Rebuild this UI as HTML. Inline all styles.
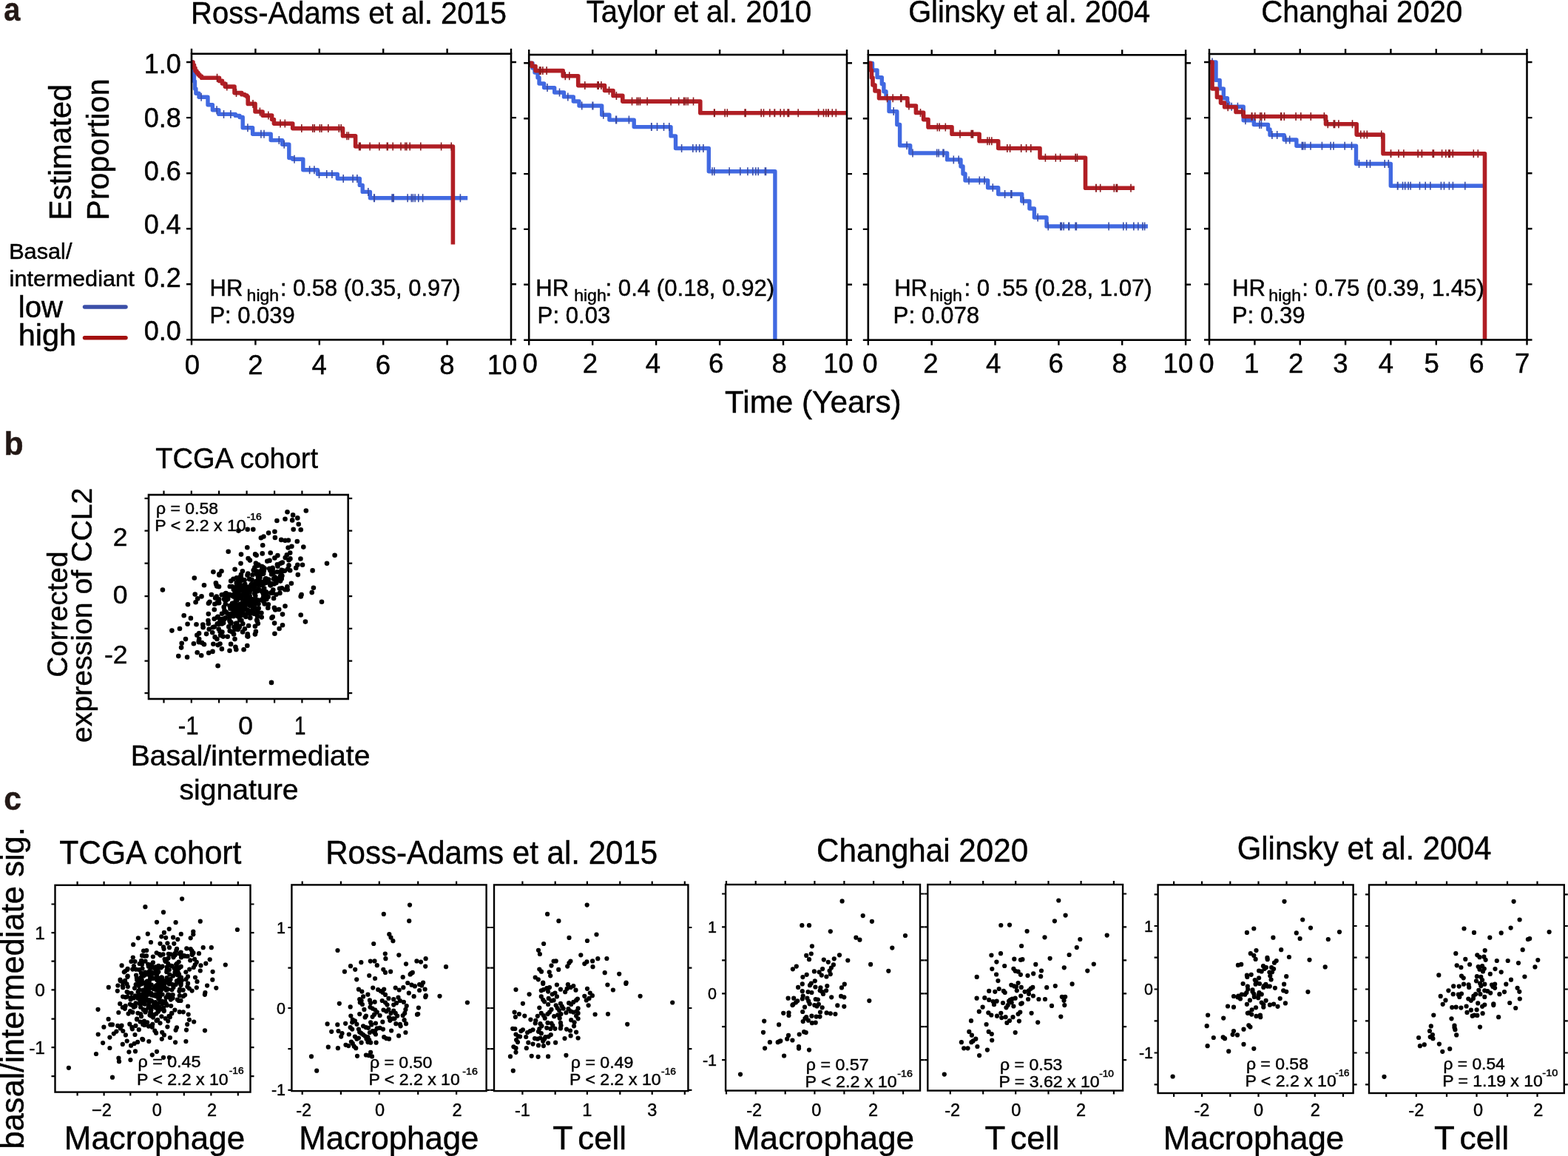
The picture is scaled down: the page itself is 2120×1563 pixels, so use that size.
<!DOCTYPE html>
<html><head><meta charset="utf-8"><title>Figure</title>
<style>html,body{margin:0;padding:0;background:#fff;overflow:hidden;}svg{display:block;}
text{font-family:'Liberation Sans', Arial, Helvetica, sans-serif;stroke:#000;stroke-width:0.45px;}text.lab{stroke:#231815;}</style></head>
<body><svg width="2120" height="1563" viewBox="0 0 2120 1563">
<rect width="2120" height="1563" fill="#fff"/>
<text x="5.21" y="28.30" font-size="44" textLength="22.14" lengthAdjust="spacingAndGlyphs" font-weight="bold" fill="#231815" class="lab">a</text>
<text x="5.46" y="614.60" font-size="44" textLength="26.19" lengthAdjust="spacingAndGlyphs" font-weight="bold" fill="#231815" class="lab">b</text>
<text x="5.29" y="1095.40" font-size="44" textLength="23.73" lengthAdjust="spacingAndGlyphs" font-weight="bold" fill="#231815" class="lab">c</text>
<text x="258.10" y="32.10" font-size="42" textLength="426.89" lengthAdjust="spacingAndGlyphs">Ross-Adams et al. 2015</text>
<path d="M259.0,65.7V72.7M259.0,459.4V466.4M345.4,65.7V72.7M345.4,459.4V466.4M431.8,65.7V72.7M431.8,459.4V466.4M518.2,65.7V72.7M518.2,459.4V466.4M604.6,65.7V72.7M604.6,459.4V466.4M691.0,65.7V72.7M691.0,459.4V466.4M252.0,459.4H259.0M691.0,459.4H698.0M252.0,384.3H259.0M691.0,384.3H698.0M252.0,309.2H259.0M691.0,309.2H698.0M252.0,234.2H259.0M691.0,234.2H698.0M252.0,159.1H259.0M691.0,159.1H698.0M252.0,84.0H259.0M691.0,84.0H698.0" stroke="#000" stroke-width="2.4" fill="none"/>
<path d="M259.5,84.0H260.5V92.0H261.5V100.0H262.5V110.0H263.5V120.0H264.9V126.3H269.0V131.2H281.0V141.8H287.4V148.8H295.8V154.4H318.3V156.4H324.0V158.5H328.2V172.7H341.6V181.2H366.2V189.6H381.7V195.3H390.8V213.6H395.7V215.2H409.8V229.7H429.5V235.4H456.3V241.5H486.3V250.4H490.2V259.4H500.4V267.7H632.2" stroke="#4169e1" stroke-width="5.4" fill="none" stroke-linejoin="round"/>
<path d="M272.1,125.7V136.7M293.1,143.3V154.3M311.9,148.9V159.9M302.5,148.9V159.9M334.9,167.2V178.2M352.9,175.7V186.7M357.0,175.7V186.7M377.3,184.1V195.1M384.2,189.8V200.8M398.0,209.7V220.7M424.9,224.2V235.2M418.6,224.2V235.2M448.9,229.9V240.9M431.5,229.9V240.9M441.7,229.9V240.9M477.1,236.0V247.0M464.2,236.0V247.0M482.9,236.0V247.0M497.8,253.9V264.9M506.3,262.2V273.2M505.7,262.2V273.2M571.6,262.2V273.2M622.4,262.2V273.2M551.1,262.2V273.2M530.1,262.2V273.2M556.3,262.2V273.2M506.1,262.2V273.2M530.7,262.2V273.2M558.4,262.2V273.2M565.8,262.2V273.2M532.2,262.2V273.2M531.9,262.2V273.2M530.4,262.2V273.2M561.1,262.2V273.2" stroke="#3a4ea8" stroke-width="1.6" fill="none"/>
<path d="M259.5,84.0H261.0V88.0H262.5V92.0H264.0V96.0H266.0V98.5H268.0V101.0H270.0V103.0H272.5V105.2H296.5V109.4H300.5V113.0H304.3V117.1H317.0V125.6H326.8V127.7H331.0V129.0H333.8V130.8H335.2V140.4H345.0V151.0H355.0V156.1H367.6V161.5H370.4V167.1H395.7V173.6H463.5V183.8H480.6V198.0H612.4V330.4" stroke="#b01e24" stroke-width="5.6" fill="none" stroke-linejoin="round"/>
<path d="M293.6,99.7V110.7M293.5,99.7V110.7M306.8,111.6V122.6M319.5,120.1V131.1M342.0,134.9V145.9M351.4,145.5V156.5M362.8,150.6V161.6M379.0,161.6V172.6M385.3,161.6V172.6M385.3,161.6V172.6M434.8,168.1V179.1M407.8,168.1V179.1M425.2,168.1V179.1M422.8,168.1V179.1M443.8,168.1V179.1M461.2,168.1V179.1M458.3,168.1V179.1M432.4,168.1V179.1M471.3,178.3V189.3M469.0,178.3V189.3M487.2,192.5V203.5M486.1,192.5V203.5M542.0,192.5V203.5M523.3,192.5V203.5M531.2,192.5V203.5M596.6,192.5V203.5M549.8,192.5V203.5M554.2,192.5V203.5M512.8,192.5V203.5M485.6,192.5V203.5M524.2,192.5V203.5M500.1,192.5V203.5M547.8,192.5V203.5M610.2,192.5V203.5M568.8,192.5V203.5" stroke="#8c1c20" stroke-width="1.6" fill="none"/>
<rect x="259.0" y="72.7" width="432.0" height="386.7" fill="none" stroke="#000" stroke-width="2.6"/>
<text x="260.0" y="505.6" font-size="36.5" text-anchor="middle">0</text>
<text x="345.5" y="505.6" font-size="36.5" text-anchor="middle">2</text>
<text x="431.6" y="505.6" font-size="36.5" text-anchor="middle">4</text>
<text x="518.0" y="505.6" font-size="36.5" text-anchor="middle">6</text>
<text x="604.5" y="505.6" font-size="36.5" text-anchor="middle">8</text>
<text x="679.0" y="505.6" font-size="36.5" text-anchor="middle">10</text>
<text x="283.64" y="399.70" font-size="31" textLength="44.81" lengthAdjust="spacingAndGlyphs">HR</text>
<text x="333.59" y="406.50" font-size="22.6" textLength="43.57" lengthAdjust="spacingAndGlyphs">high</text>
<text x="378.92" y="399.70" font-size="31" textLength="243.71" lengthAdjust="spacingAndGlyphs">: 0.58 (0.35, 0.97)</text>
<text x="283.45" y="436.80" font-size="30.5" textLength="115.36" lengthAdjust="spacingAndGlyphs">P: 0.039</text>
<text x="792.70" y="30.00" font-size="42" textLength="304.64" lengthAdjust="spacingAndGlyphs">Taylor et al. 2010</text>
<path d="M715.2,67.0V74.0M715.2,459.7V466.7M801.2,67.0V74.0M801.2,459.7V466.7M887.1,67.0V74.0M887.1,459.7V466.7M973.1,67.0V74.0M973.1,459.7V466.7M1059.0,67.0V74.0M1059.0,459.7V466.7M1145.0,67.0V74.0M1145.0,459.7V466.7M708.2,459.7H715.2M1145.0,459.7H1152.0M708.2,384.8H715.2M1145.0,384.8H1152.0M708.2,309.9H715.2M1145.0,309.9H1152.0M708.2,235.1H715.2M1145.0,235.1H1152.0M708.2,160.2H715.2M1145.0,160.2H1152.0M708.2,85.3H715.2M1145.0,85.3H1152.0" stroke="#000" stroke-width="2.4" fill="none"/>
<path d="M715.5,85.4H720.0V92.0H723.0V98.0H727.0V105.0H729.0V113.0H735.6V118.6H749.7V125.0H762.5V130.9H775.3V137.0H783.0V143.0H813.7V155.2H823.9V162.1H857.2V171.6H907.0V183.9H913.5V200.5H958.3V231.8H1047.9V459.7" stroke="#4169e1" stroke-width="5.4" fill="none" stroke-linejoin="round"/>
<path d="M740.0,113.1V124.1M756.5,119.5V130.5M767.8,125.4V136.4M801.1,137.5V148.5M801.7,137.5V148.5M786.7,137.5V148.5M815.8,149.7V160.7M850.4,156.6V167.6M833.5,156.6V167.6M832.8,156.6V167.6M904.8,166.1V177.1M880.7,166.1V177.1M897.5,166.1V177.1M881.0,166.1V177.1M888.5,166.1V177.1M921.6,195.0V206.0M941.4,195.0V206.0M950.9,195.0V206.0M936.8,195.0V206.0M945.7,195.0V206.0M1017.8,226.3V237.3M965.8,226.3V237.3M1025.2,226.3V237.3M1010.9,226.3V237.3M986.1,226.3V237.3M963.0,226.3V237.3M1034.4,226.3V237.3M1000.8,226.3V237.3M1021.8,226.3V237.3M1035.5,226.3V237.3" stroke="#3a4ea8" stroke-width="1.6" fill="none"/>
<path d="M715.5,85.4H719.0V89.5H724.0V95.6H761.2V102.8H781.7V115.6H817.5V122.5H829.0V129.4H841.8V137.1H946.8V152.7H1145.0" stroke="#b01e24" stroke-width="5.6" fill="none" stroke-linejoin="round"/>
<path d="M733.8,90.1V101.1M729.4,90.1V101.1M739.1,90.1V101.1M731.1,90.1V101.1M764.3,97.3V108.3M769.8,97.3V108.3M812.9,110.1V121.1M809.2,110.1V121.1M808.0,110.1V121.1M790.8,110.1V121.1M823.5,117.0V128.0M833.4,123.9V134.9M861.2,131.6V142.6M854.5,131.6V142.6M865.5,131.6V142.6M937.5,131.6V142.6M927.5,131.6V142.6M925.3,131.6V142.6M924.6,131.6V142.6M863.3,131.6V142.6M875.1,131.6V142.6M907.1,131.6V142.6M917.7,131.6V142.6M930.1,131.6V142.6M1119.7,147.2V158.2M965.6,147.2V158.2M1066.5,147.2V158.2M1079.2,147.2V158.2M1047.1,147.2V158.2M983.3,147.2V158.2M1040.8,147.2V158.2M966.2,147.2V158.2M1130.3,147.2V158.2M1116.9,147.2V158.2M1055.2,147.2V158.2M1007.1,147.2V158.2M1125.3,147.2V158.2M1060.0,147.2V158.2M1120.1,147.2V158.2M1113.5,147.2V158.2M1047.5,147.2V158.2M1029.2,147.2V158.2M1065.1,147.2V158.2M1032.5,147.2V158.2M980.1,147.2V158.2M1008.1,147.2V158.2M1106.6,147.2V158.2" stroke="#8c1c20" stroke-width="1.6" fill="none"/>
<rect x="715.2" y="74.0" width="429.8" height="385.7" fill="none" stroke="#000" stroke-width="2.6"/>
<text x="716.7" y="504.4" font-size="36.5" text-anchor="middle">0</text>
<text x="797.9" y="504.4" font-size="36.5" text-anchor="middle">2</text>
<text x="883.0" y="504.4" font-size="36.5" text-anchor="middle">4</text>
<text x="968.2" y="504.4" font-size="36.5" text-anchor="middle">6</text>
<text x="1053.7" y="504.4" font-size="36.5" text-anchor="middle">8</text>
<text x="1133.6" y="504.4" font-size="36.5" text-anchor="middle">10</text>
<text x="724.24" y="399.70" font-size="31" textLength="44.81" lengthAdjust="spacingAndGlyphs">HR</text>
<text x="776.19" y="406.50" font-size="22.6" textLength="43.57" lengthAdjust="spacingAndGlyphs">high</text>
<text x="818.50" y="399.70" font-size="31" textLength="228.70" lengthAdjust="spacingAndGlyphs">: 0.4 (0.18, 0.92)</text>
<text x="726.63" y="436.80" font-size="30.5" textLength="98.64" lengthAdjust="spacingAndGlyphs">P: 0.03</text>
<text x="1228.21" y="30.20" font-size="42" textLength="326.95" lengthAdjust="spacingAndGlyphs">Glinsky et al. 2004</text>
<path d="M1173.8,67.3V74.3M1173.8,459.7V466.7M1259.7,67.3V74.3M1259.7,459.7V466.7M1345.5,67.3V74.3M1345.5,459.7V466.7M1431.4,67.3V74.3M1431.4,459.7V466.7M1517.2,67.3V74.3M1517.2,459.7V466.7M1603.1,67.3V74.3M1603.1,459.7V466.7M1166.8,459.7H1173.8M1603.1,459.7H1610.1M1166.8,384.8H1173.8M1603.1,384.8H1610.1M1166.8,309.9H1173.8M1603.1,309.9H1610.1M1166.8,235.1H1173.8M1603.1,235.1H1610.1M1166.8,160.2H1173.8M1603.1,160.2H1610.1M1166.8,85.3H1173.8M1603.1,85.3H1610.1" stroke="#000" stroke-width="2.4" fill="none"/>
<path d="M1174.3,85.4H1179.5V95.0H1186.0V104.6H1192.3V113.5H1194.9V123.7H1198.0V132.7H1202.0V150.6H1212.8V168.5H1216.6V196.7H1230.7V207.0H1280.6V215.9H1299.0V225.0H1302.0V235.0H1305.0V244.0H1335.6V253.8H1349.7V262.5H1381.7V272.0H1391.9V282.0H1398.4V294.0H1415.0V306.0H1551.9" stroke="#4169e1" stroke-width="5.4" fill="none" stroke-linejoin="round"/>
<path d="M1208.2,145.1V156.1M1226.1,191.2V202.2M1269.2,201.5V212.5M1276.0,201.5V212.5M1266.7,201.5V212.5M1275.0,201.5V212.5M1234.0,201.5V212.5M1289.3,210.4V221.4M1296.2,210.4V221.4M1324.3,238.5V249.5M1331.0,238.5V249.5M1310.0,238.5V249.5M1342.3,248.3V259.3M1358.6,257.0V268.0M1366.9,257.0V268.0M1367.8,257.0V268.0M1383.8,266.5V277.5M1403.1,288.5V299.5M1454.1,300.5V311.5M1538.8,300.5V311.5M1518.8,300.5V311.5M1438.2,300.5V311.5M1522.9,300.5V311.5M1435.4,300.5V311.5M1499.1,300.5V311.5M1433.8,300.5V311.5M1417.2,300.5V311.5M1532.8,300.5V311.5M1444.8,300.5V311.5M1445.6,300.5V311.5M1547.6,300.5V311.5M1532.9,300.5V311.5M1455.4,300.5V311.5M1544.8,300.5V311.5" stroke="#3a4ea8" stroke-width="1.6" fill="none"/>
<path d="M1174.3,85.4H1177.0V95.0H1178.5V105.0H1180.0V115.0H1183.0V123.0H1188.5V132.7H1226.9V143.0H1238.4V152.4H1248.6V161.6H1255.0V171.9H1287.0V181.3H1324.1V190.8H1349.7V200.5H1406.0V213.3H1467.5V254.3H1534.0" stroke="#b01e24" stroke-width="5.6" fill="none" stroke-linejoin="round"/>
<path d="M1217.8,127.2V138.2M1218.8,127.2V138.2M1207.2,127.2V138.2M1199.5,127.2V138.2M1228.9,137.5V148.5M1244.5,146.9V157.9M1270.2,166.4V177.4M1278.3,166.4V177.4M1267.4,166.4V177.4M1314.5,175.8V186.8M1298.0,175.8V186.8M1315.5,175.8V186.8M1313.2,175.8V186.8M1335.0,185.3V196.3M1337.7,185.3V196.3M1340.8,185.3V196.3M1361.8,195.0V206.0M1380.7,195.0V206.0M1393.8,195.0V206.0M1365.6,195.0V206.0M1393.7,195.0V206.0M1387.6,195.0V206.0M1456.5,207.8V218.8M1427.3,207.8V218.8M1413.4,207.8V218.8M1454.0,207.8V218.8M1454.3,207.8V218.8M1433.6,207.8V218.8M1413.4,207.8V218.8M1481.8,248.8V259.8M1509.2,248.8V259.8M1487.7,248.8V259.8M1529.0,248.8V259.8M1506.3,248.8V259.8M1482.1,248.8V259.8M1510.5,248.8V259.8" stroke="#8c1c20" stroke-width="1.6" fill="none"/>
<rect x="1173.8" y="74.3" width="429.3" height="385.4" fill="none" stroke="#000" stroke-width="2.6"/>
<text x="1176.5" y="504.4" font-size="36.5" text-anchor="middle">0</text>
<text x="1258.4" y="504.4" font-size="36.5" text-anchor="middle">2</text>
<text x="1343.1" y="504.4" font-size="36.5" text-anchor="middle">4</text>
<text x="1427.7" y="504.4" font-size="36.5" text-anchor="middle">6</text>
<text x="1513.7" y="504.4" font-size="36.5" text-anchor="middle">8</text>
<text x="1592.9" y="504.4" font-size="36.5" text-anchor="middle">10</text>
<text x="1209.14" y="399.70" font-size="31" textLength="44.81" lengthAdjust="spacingAndGlyphs">HR</text>
<text x="1257.29" y="406.50" font-size="22.6" textLength="43.57" lengthAdjust="spacingAndGlyphs">high</text>
<text x="1303.40" y="399.70" font-size="31" textLength="254.26" lengthAdjust="spacingAndGlyphs">: 0 .55 (0.28, 1.07)</text>
<text x="1207.62" y="436.80" font-size="30.5" textLength="116.62" lengthAdjust="spacingAndGlyphs">P: 0.078</text>
<text x="1705.19" y="30.00" font-size="42" textLength="272.17" lengthAdjust="spacingAndGlyphs">Changhai 2020</text>
<path d="M1635.0,66.0V73.0M1635.0,459.5V466.5M1696.4,66.0V73.0M1696.4,459.5V466.5M1757.7,66.0V73.0M1757.7,459.5V466.5M1819.1,66.0V73.0M1819.1,459.5V466.5M1880.4,66.0V73.0M1880.4,459.5V466.5M1941.8,66.0V73.0M1941.8,459.5V466.5M2003.1,66.0V73.0M2003.1,459.5V466.5M2064.5,66.0V73.0M2064.5,459.5V466.5M1628.0,459.5H1635.0M2064.5,459.5H2071.5M1628.0,384.4H1635.0M2064.5,384.4H2071.5M1628.0,309.3H1635.0M2064.5,309.3H2071.5M1628.0,234.2H1635.0M2064.5,234.2H2071.5M1628.0,159.1H1635.0M2064.5,159.1H2071.5M1628.0,84.0H1635.0M2064.5,84.0H2071.5" stroke="#000" stroke-width="2.4" fill="none"/>
<path d="M1635.5,84.0H1644.0V108.4H1649.2V119.9H1654.3V132.7H1659.4V139.1H1660.7V144.2H1681.2V162.7H1695.3V168.5H1714.5V175.0H1717.0V182.6H1736.2V189.0H1752.9V197.2H1833.5V221.5H1880.3V251.2H2005.0" stroke="#4169e1" stroke-width="5.4" fill="none" stroke-linejoin="round"/>
<path d="M1639.0,78.5V89.5M1665.2,138.7V149.7M1673.4,138.7V149.7M1683.9,157.2V168.2M1705.4,163.0V174.0M1702.9,163.0V174.0M1719.9,177.1V188.1M1726.7,177.1V188.1M1738.7,183.5V194.5M1743.7,183.5V194.5M1760.3,191.7V202.7M1761.8,191.7V202.7M1787.4,191.7V202.7M1818.2,191.7V202.7M1764.4,191.7V202.7M1772.0,191.7V202.7M1803.0,191.7V202.7M1827.5,191.7V202.7M1799.1,191.7V202.7M1852.5,216.0V227.0M1877.3,216.0V227.0M1837.5,216.0V227.0M1872.2,216.0V227.0M1847.9,216.0V227.0M1899.7,245.7V256.7M1896.5,245.7V256.7M1919.5,245.7V256.7M1980.8,245.7V256.7M1904.1,245.7V256.7M1952.5,245.7V256.7M1959.4,245.7V256.7M1927.2,245.7V256.7M1948.4,245.7V256.7M1889.9,245.7V256.7M1889.5,245.7V256.7M1907.2,245.7V256.7M1964.4,245.7V256.7M1933.9,245.7V256.7" stroke="#3a4ea8" stroke-width="1.6" fill="none"/>
<path d="M1635.5,84.0H1639.0V120.0H1645.4V131.4H1650.5V139.1H1655.6V144.7H1671.0V151.4H1681.2V157.5H1792.5V167.8H1834.2V182.1H1870.0V207.7H2007.5V459.5" stroke="#b01e24" stroke-width="5.6" fill="none" stroke-linejoin="round"/>
<path d="M1660.2,139.2V150.2M1679.0,145.9V156.9M1696.8,152.0V163.0M1758.8,152.0V163.0M1692.3,152.0V163.0M1709.8,152.0V163.0M1790.4,152.0V163.0M1705.7,152.0V163.0M1752.1,152.0V163.0M1732.5,152.0V163.0M1731.8,152.0V163.0M1736.3,152.0V163.0M1703.8,152.0V163.0M1772.3,152.0V163.0M1692.8,152.0V163.0M1803.3,162.3V173.3M1795.3,162.3V173.3M1804.6,162.3V173.3M1809.9,162.3V173.3M1828.5,162.3V173.3M1848.3,176.6V187.6M1839.8,176.6V187.6M1844.4,176.6V187.6M1867.7,176.6V187.6M1880.4,202.2V213.2M1954.8,202.2V213.2M1922.4,202.2V213.2M1960.2,202.2V213.2M1917.2,202.2V213.2M1964.3,202.2V213.2M1938.4,202.2V213.2M1958.7,202.2V213.2M1992.3,202.2V213.2M1949.6,202.2V213.2M1891.0,202.2V213.2M1880.6,202.2V213.2M1998.3,202.2V213.2M1937.2,202.2V213.2M1897.9,202.2V213.2M1998.3,202.2V213.2" stroke="#8c1c20" stroke-width="1.6" fill="none"/>
<rect x="1635.0" y="73.0" width="429.5" height="386.5" fill="none" stroke="#000" stroke-width="2.6"/>
<text x="1631.3" y="504.4" font-size="36.5" text-anchor="middle">0</text>
<text x="1692.2" y="504.4" font-size="36.5" text-anchor="middle">1</text>
<text x="1752.1" y="504.4" font-size="36.5" text-anchor="middle">2</text>
<text x="1812.5" y="504.4" font-size="36.5" text-anchor="middle">3</text>
<text x="1873.8" y="504.4" font-size="36.5" text-anchor="middle">4</text>
<text x="1935.6" y="504.4" font-size="36.5" text-anchor="middle">5</text>
<text x="1996.5" y="504.4" font-size="36.5" text-anchor="middle">6</text>
<text x="2058.2" y="504.4" font-size="36.5" text-anchor="middle">7</text>
<text x="1666.04" y="399.70" font-size="31" textLength="44.81" lengthAdjust="spacingAndGlyphs">HR</text>
<text x="1715.39" y="406.50" font-size="22.6" textLength="43.57" lengthAdjust="spacingAndGlyphs">high</text>
<text x="1760.29" y="399.70" font-size="31" textLength="246.57" lengthAdjust="spacingAndGlyphs">: 0.75 (0.39, 1.45)</text>
<text x="1665.83" y="436.80" font-size="30.5" textLength="98.72" lengthAdjust="spacingAndGlyphs">P: 0.39</text>
<text x="244.7" y="460.2" font-size="36" text-anchor="end">0.0</text>
<text x="244.7" y="388.0" font-size="36" text-anchor="end">0.2</text>
<text x="244.7" y="315.9" font-size="36" text-anchor="end">0.4</text>
<text x="244.7" y="243.7" font-size="36" text-anchor="end">0.6</text>
<text x="244.7" y="171.5" font-size="36" text-anchor="end">0.8</text>
<text x="244.7" y="99.2" font-size="36" text-anchor="end">1.0</text>
<text x="96.50" y="298.02" font-size="42" textLength="184.06" lengthAdjust="spacingAndGlyphs" transform="rotate(-90 96.50 298.02)">Estimated</text>
<text x="147.30" y="298.03" font-size="42" textLength="191.68" lengthAdjust="spacingAndGlyphs" transform="rotate(-90 147.30 298.03)">Proportion</text>
<text x="12.17" y="349.90" font-size="28.6" textLength="85.31" lengthAdjust="spacingAndGlyphs">Basal/</text>
<text x="12.63" y="386.60" font-size="28.6" textLength="169.12" lengthAdjust="spacingAndGlyphs">intermediant</text>
<text x="24.89" y="429.00" font-size="40" textLength="60.23" lengthAdjust="spacingAndGlyphs">low</text>
<text x="24.69" y="467.00" font-size="40" textLength="78.53" lengthAdjust="spacingAndGlyphs">high</text>
<line x1="114.5" y1="415.1" x2="170.0" y2="415.1" stroke="#3b4fa8" stroke-width="5.5" stroke-linecap="round"/>
<line x1="114.5" y1="456.8" x2="170.0" y2="456.8" stroke="#a3100f" stroke-width="5.5" stroke-linecap="round"/>
<text x="980.05" y="558.40" font-size="43" textLength="238.56" lengthAdjust="spacingAndGlyphs">Time (Years)</text>
<path d="M221.5,663.5V669.0M221.5,945.0V950.5M258.8,663.5V669.0M258.8,945.0V950.5M296.1,663.5V669.0M296.1,945.0V950.5M333.6,663.5V669.0M333.6,945.0V950.5M371.1,663.5V669.0M371.1,945.0V950.5M408.4,663.5V669.0M408.4,945.0V950.5M445.8,663.5V669.0M445.8,945.0V950.5M195.5,673.8H201.0M470.7,673.8H476.2M195.5,717.6H201.0M470.7,717.6H476.2M195.5,761.7H201.0M470.7,761.7H476.2M195.5,806.2H201.0M470.7,806.2H476.2M195.5,849.9H201.0M470.7,849.9H476.2M195.5,893.7H201.0M470.7,893.7H476.2M195.5,937.2H201.0M470.7,937.2H476.2" stroke="#000" stroke-width="2.2" fill="none"/>
<g fill="#000"><circle cx="413.8" cy="690.5" r="3.3"/><circle cx="388.5" cy="692.3" r="3.3"/><circle cx="396.1" cy="696.4" r="3.3"/><circle cx="402.3" cy="700.4" r="3.3"/><circle cx="385.5" cy="701.7" r="3.3"/><circle cx="395.2" cy="703.4" r="3.3"/><circle cx="374.4" cy="704.0" r="3.3"/><circle cx="403.7" cy="708.7" r="3.3"/><circle cx="396.7" cy="715.8" r="3.3"/><circle cx="406.7" cy="716.3" r="3.3"/><circle cx="322.5" cy="717.6" r="3.3"/><circle cx="334.7" cy="715.8" r="3.3"/><circle cx="342.3" cy="715.8" r="3.3"/><circle cx="363.1" cy="720.6" r="3.3"/><circle cx="371.4" cy="718.8" r="3.3"/><circle cx="352.9" cy="727.3" r="3.3"/><circle cx="356.4" cy="725.5" r="3.3"/><circle cx="371.9" cy="726.9" r="3.3"/><circle cx="380.2" cy="729.9" r="3.3"/><circle cx="385.5" cy="730.8" r="3.3"/><circle cx="389.9" cy="730.5" r="3.3"/><circle cx="401.8" cy="732.0" r="3.3"/><circle cx="410.3" cy="739.6" r="3.3"/><circle cx="394.4" cy="738.8" r="3.3"/><circle cx="389.6" cy="740.5" r="3.3"/><circle cx="334.3" cy="740.2" r="3.3"/><circle cx="355.2" cy="737.3" r="3.3"/><circle cx="308.7" cy="745.8" r="3.3"/><circle cx="452.6" cy="750.8" r="3.3"/><circle cx="387.8" cy="750.2" r="3.3"/><circle cx="346.7" cy="750.8" r="3.3"/><circle cx="335.6" cy="755.0" r="3.3"/><circle cx="406.4" cy="755.5" r="3.3"/><circle cx="442.0" cy="761.7" r="3.3"/><circle cx="409.0" cy="763.8" r="3.3"/><circle cx="402.3" cy="763.8" r="3.3"/><circle cx="400.2" cy="767.9" r="3.3"/><circle cx="390.5" cy="764.4" r="3.3"/><circle cx="422.6" cy="771.4" r="3.3"/><circle cx="402.8" cy="777.1" r="3.3"/><circle cx="325.5" cy="761.7" r="3.3"/><circle cx="288.4" cy="773.2" r="3.3"/><circle cx="299.5" cy="772.3" r="3.3"/><circle cx="296.4" cy="776.4" r="3.3"/><circle cx="262.8" cy="781.5" r="3.3"/><circle cx="276.0" cy="791.2" r="3.3"/><circle cx="219.9" cy="797.6" r="3.3"/><circle cx="293.2" cy="792.6" r="3.3"/><circle cx="423.9" cy="794.7" r="3.3"/><circle cx="421.7" cy="801.1" r="3.3"/><circle cx="407.6" cy="804.1" r="3.3"/><circle cx="406.7" cy="806.4" r="3.3"/><circle cx="435.0" cy="813.8" r="3.3"/><circle cx="385.5" cy="819.5" r="3.3"/><circle cx="378.1" cy="795.8" r="3.3"/><circle cx="382.0" cy="830.6" r="3.3"/><circle cx="406.7" cy="831.5" r="3.3"/><circle cx="412.9" cy="840.6" r="3.3"/><circle cx="371.1" cy="842.6" r="3.3"/><circle cx="382.0" cy="845.2" r="3.3"/><circle cx="377.6" cy="850.0" r="3.3"/><circle cx="371.4" cy="856.7" r="3.3"/><circle cx="344.9" cy="857.6" r="3.3"/><circle cx="254.0" cy="817.3" r="3.3"/><circle cx="263.7" cy="803.6" r="3.3"/><circle cx="272.5" cy="806.4" r="3.3"/><circle cx="267.2" cy="809.4" r="3.3"/><circle cx="264.6" cy="814.2" r="3.3"/><circle cx="248.7" cy="832.3" r="3.3"/><circle cx="257.9" cy="835.9" r="3.3"/><circle cx="253.6" cy="843.8" r="3.3"/><circle cx="232.4" cy="852.6" r="3.3"/><circle cx="243.0" cy="850.0" r="3.3"/><circle cx="265.5" cy="844.3" r="3.3"/><circle cx="266.3" cy="858.8" r="3.3"/><circle cx="251.0" cy="864.1" r="3.3"/><circle cx="245.7" cy="869.8" r="3.3"/><circle cx="245.1" cy="875.6" r="3.3"/><circle cx="261.9" cy="870.3" r="3.3"/><circle cx="269.0" cy="868.2" r="3.3"/><circle cx="273.0" cy="869.1" r="3.3"/><circle cx="276.0" cy="871.2" r="3.3"/><circle cx="241.3" cy="887.1" r="3.3"/><circle cx="253.1" cy="888.5" r="3.3"/><circle cx="266.7" cy="882.3" r="3.3"/><circle cx="272.2" cy="886.2" r="3.3"/><circle cx="282.2" cy="882.7" r="3.3"/><circle cx="287.5" cy="880.9" r="3.3"/><circle cx="294.6" cy="900.3" r="3.3"/><circle cx="367.0" cy="922.9" r="3.3"/><circle cx="310.5" cy="879.7" r="3.3"/><circle cx="319.3" cy="878.3" r="3.3"/><circle cx="329.6" cy="878.3" r="3.3"/><circle cx="334.3" cy="873.0" r="3.3"/><circle cx="318.4" cy="874.7" r="3.3"/><circle cx="299.9" cy="877.4" r="3.3"/><circle cx="288.4" cy="870.8" r="3.3"/><circle cx="294.6" cy="872.1" r="3.3"/><circle cx="335.2" cy="860.6" r="3.3"/><circle cx="328.1" cy="854.4" r="3.3"/><circle cx="314.0" cy="854.4" r="3.3"/><circle cx="317.5" cy="864.1" r="3.3"/><circle cx="321.2" cy="819.0" r="3.3"/><circle cx="343.7" cy="797.0" r="3.3"/><circle cx="287.2" cy="855.3" r="3.3"/><circle cx="351.9" cy="786.2" r="3.3"/><circle cx="317.6" cy="794.5" r="3.3"/><circle cx="332.9" cy="798.5" r="3.3"/><circle cx="289.8" cy="824.2" r="3.3"/><circle cx="374.4" cy="782.7" r="3.3"/><circle cx="269.2" cy="864.0" r="3.3"/><circle cx="303.5" cy="825.5" r="3.3"/><circle cx="334.5" cy="777.7" r="3.3"/><circle cx="365.8" cy="791.5" r="3.3"/><circle cx="324.3" cy="827.6" r="3.3"/><circle cx="343.6" cy="793.4" r="3.3"/><circle cx="355.4" cy="801.6" r="3.3"/><circle cx="348.5" cy="784.9" r="3.3"/><circle cx="337.4" cy="801.8" r="3.3"/><circle cx="336.1" cy="812.9" r="3.3"/><circle cx="309.3" cy="847.4" r="3.3"/><circle cx="300.4" cy="854.6" r="3.3"/><circle cx="347.9" cy="789.8" r="3.3"/><circle cx="335.6" cy="816.3" r="3.3"/><circle cx="336.1" cy="846.0" r="3.3"/><circle cx="320.1" cy="820.7" r="3.3"/><circle cx="368.5" cy="801.8" r="3.3"/><circle cx="304.6" cy="812.0" r="3.3"/><circle cx="337.5" cy="783.1" r="3.3"/><circle cx="312.4" cy="841.6" r="3.3"/><circle cx="326.7" cy="825.8" r="3.3"/><circle cx="365.5" cy="791.1" r="3.3"/><circle cx="323.7" cy="797.3" r="3.3"/><circle cx="326.1" cy="823.0" r="3.3"/><circle cx="312.4" cy="842.8" r="3.3"/><circle cx="281.8" cy="830.1" r="3.3"/><circle cx="345.9" cy="853.9" r="3.3"/><circle cx="320.1" cy="791.4" r="3.3"/><circle cx="381.8" cy="760.6" r="3.3"/><circle cx="327.8" cy="798.5" r="3.3"/><circle cx="385.5" cy="797.2" r="3.3"/><circle cx="345.8" cy="816.0" r="3.3"/><circle cx="343.4" cy="829.7" r="3.3"/><circle cx="301.3" cy="838.7" r="3.3"/><circle cx="324.6" cy="798.1" r="3.3"/><circle cx="374.4" cy="782.4" r="3.3"/><circle cx="344.5" cy="789.0" r="3.3"/><circle cx="337.3" cy="782.9" r="3.3"/><circle cx="312.1" cy="830.0" r="3.3"/><circle cx="356.3" cy="789.6" r="3.3"/><circle cx="343.9" cy="820.9" r="3.3"/><circle cx="296.2" cy="810.4" r="3.3"/><circle cx="335.2" cy="825.0" r="3.3"/><circle cx="299.3" cy="837.3" r="3.3"/><circle cx="375.5" cy="765.8" r="3.3"/><circle cx="325.4" cy="806.4" r="3.3"/><circle cx="315.1" cy="830.9" r="3.3"/><circle cx="368.6" cy="767.9" r="3.3"/><circle cx="364.5" cy="757.9" r="3.3"/><circle cx="321.8" cy="851.1" r="3.3"/><circle cx="313.6" cy="793.0" r="3.3"/><circle cx="354.7" cy="748.4" r="3.3"/><circle cx="296.0" cy="793.3" r="3.3"/><circle cx="375.4" cy="751.1" r="3.3"/><circle cx="328.4" cy="792.0" r="3.3"/><circle cx="327.2" cy="792.0" r="3.3"/><circle cx="353.7" cy="834.5" r="3.3"/><circle cx="312.1" cy="870.9" r="3.3"/><circle cx="353.4" cy="828.7" r="3.3"/><circle cx="334.5" cy="860.2" r="3.3"/><circle cx="300.0" cy="843.5" r="3.3"/><circle cx="385.7" cy="754.1" r="3.3"/><circle cx="337.2" cy="802.0" r="3.3"/><circle cx="326.0" cy="776.7" r="3.3"/><circle cx="319.7" cy="849.5" r="3.3"/><circle cx="365.2" cy="771.1" r="3.3"/><circle cx="341.8" cy="814.7" r="3.3"/><circle cx="310.2" cy="803.9" r="3.3"/><circle cx="322.2" cy="806.1" r="3.3"/><circle cx="330.6" cy="822.4" r="3.3"/><circle cx="318.0" cy="816.0" r="3.3"/><circle cx="317.9" cy="818.1" r="3.3"/><circle cx="320.4" cy="821.4" r="3.3"/><circle cx="368.5" cy="769.4" r="3.3"/><circle cx="380.7" cy="782.5" r="3.3"/><circle cx="338.1" cy="819.0" r="3.3"/><circle cx="333.4" cy="808.2" r="3.3"/><circle cx="296.1" cy="843.8" r="3.3"/><circle cx="304.8" cy="835.4" r="3.3"/><circle cx="334.6" cy="800.4" r="3.3"/><circle cx="352.8" cy="772.0" r="3.3"/><circle cx="318.8" cy="820.1" r="3.3"/><circle cx="348.6" cy="764.8" r="3.3"/><circle cx="356.2" cy="812.9" r="3.3"/><circle cx="326.8" cy="831.5" r="3.3"/><circle cx="374.8" cy="773.3" r="3.3"/><circle cx="331.1" cy="805.7" r="3.3"/><circle cx="332.4" cy="833.9" r="3.3"/><circle cx="302.7" cy="820.9" r="3.3"/><circle cx="312.2" cy="785.6" r="3.3"/><circle cx="333.5" cy="811.2" r="3.3"/><circle cx="323.3" cy="834.6" r="3.3"/><circle cx="388.4" cy="793.3" r="3.3"/><circle cx="327.9" cy="772.2" r="3.3"/><circle cx="359.4" cy="785.6" r="3.3"/><circle cx="333.9" cy="793.9" r="3.3"/><circle cx="389.2" cy="769.3" r="3.3"/><circle cx="325.6" cy="785.2" r="3.3"/><circle cx="321.8" cy="801.1" r="3.3"/><circle cx="369.3" cy="797.6" r="3.3"/><circle cx="344.1" cy="790.8" r="3.3"/><circle cx="339.6" cy="793.3" r="3.3"/><circle cx="332.3" cy="831.0" r="3.3"/><circle cx="323.4" cy="794.1" r="3.3"/><circle cx="356.8" cy="800.7" r="3.3"/><circle cx="334.2" cy="804.4" r="3.3"/><circle cx="392.2" cy="747.5" r="3.3"/><circle cx="337.9" cy="757.6" r="3.3"/><circle cx="344.5" cy="793.0" r="3.3"/><circle cx="319.6" cy="806.4" r="3.3"/><circle cx="329.7" cy="795.0" r="3.3"/><circle cx="365.7" cy="747.5" r="3.3"/><circle cx="358.7" cy="782.9" r="3.3"/><circle cx="359.8" cy="800.4" r="3.3"/><circle cx="342.4" cy="827.1" r="3.3"/><circle cx="328.3" cy="843.4" r="3.3"/><circle cx="368.5" cy="799.7" r="3.3"/><circle cx="353.6" cy="775.5" r="3.3"/><circle cx="314.1" cy="832.3" r="3.3"/><circle cx="306.0" cy="827.7" r="3.3"/><circle cx="358.5" cy="787.8" r="3.3"/><circle cx="348.4" cy="827.6" r="3.3"/><circle cx="344.3" cy="802.7" r="3.3"/><circle cx="334.6" cy="824.9" r="3.3"/><circle cx="349.4" cy="763.6" r="3.3"/><circle cx="282.7" cy="850.8" r="3.3"/><circle cx="315.6" cy="825.0" r="3.3"/><circle cx="301.0" cy="836.9" r="3.3"/><circle cx="292.7" cy="806.5" r="3.3"/><circle cx="360.2" cy="803.6" r="3.3"/><circle cx="390.4" cy="757.3" r="3.3"/><circle cx="349.2" cy="782.2" r="3.3"/><circle cx="297.5" cy="839.3" r="3.3"/><circle cx="319.8" cy="787.9" r="3.3"/><circle cx="379.8" cy="773.4" r="3.3"/><circle cx="365.3" cy="788.8" r="3.3"/><circle cx="347.3" cy="799.4" r="3.3"/><circle cx="355.3" cy="788.9" r="3.3"/><circle cx="334.9" cy="825.7" r="3.3"/><circle cx="367.1" cy="789.8" r="3.3"/><circle cx="274.6" cy="848.2" r="3.3"/><circle cx="331.2" cy="818.5" r="3.3"/><circle cx="349.1" cy="822.9" r="3.3"/><circle cx="316.6" cy="830.4" r="3.3"/><circle cx="297.5" cy="870.6" r="3.3"/><circle cx="341.5" cy="777.2" r="3.3"/><circle cx="331.1" cy="800.8" r="3.3"/><circle cx="346.9" cy="799.0" r="3.3"/><circle cx="371.6" cy="780.2" r="3.3"/><circle cx="311.5" cy="822.9" r="3.3"/><circle cx="372.7" cy="785.1" r="3.3"/><circle cx="330.1" cy="797.1" r="3.3"/><circle cx="293.4" cy="864.0" r="3.3"/><circle cx="322.6" cy="826.7" r="3.3"/><circle cx="315.6" cy="806.6" r="3.3"/><circle cx="379.0" cy="778.7" r="3.3"/><circle cx="364.2" cy="768.8" r="3.3"/><circle cx="354.3" cy="767.0" r="3.3"/><circle cx="302.8" cy="803.8" r="3.3"/><circle cx="311.1" cy="841.0" r="3.3"/><circle cx="293.7" cy="843.6" r="3.3"/><circle cx="368.7" cy="834.0" r="3.3"/><circle cx="318.8" cy="811.9" r="3.3"/><circle cx="330.5" cy="820.2" r="3.3"/><circle cx="338.1" cy="798.3" r="3.3"/><circle cx="356.6" cy="786.6" r="3.3"/><circle cx="325.8" cy="792.7" r="3.3"/><circle cx="317.6" cy="830.9" r="3.3"/><circle cx="326.2" cy="797.0" r="3.3"/><circle cx="355.0" cy="787.5" r="3.3"/><circle cx="323.1" cy="782.8" r="3.3"/><circle cx="279.1" cy="857.1" r="3.3"/><circle cx="310.7" cy="853.1" r="3.3"/><circle cx="392.2" cy="771.2" r="3.3"/><circle cx="319.1" cy="798.5" r="3.3"/><circle cx="362.6" cy="807.0" r="3.3"/><circle cx="341.1" cy="826.7" r="3.3"/><circle cx="307.7" cy="860.7" r="3.3"/><circle cx="324.7" cy="816.9" r="3.3"/><circle cx="361.3" cy="758.7" r="3.3"/><circle cx="269.1" cy="856.4" r="3.3"/><circle cx="316.5" cy="847.7" r="3.3"/><circle cx="355.4" cy="776.0" r="3.3"/><circle cx="290.6" cy="861.4" r="3.3"/><circle cx="345.5" cy="830.1" r="3.3"/><circle cx="367.1" cy="776.5" r="3.3"/><circle cx="316.4" cy="822.0" r="3.3"/><circle cx="315.9" cy="826.7" r="3.3"/><circle cx="321.5" cy="786.6" r="3.3"/><circle cx="320.2" cy="817.2" r="3.3"/><circle cx="322.9" cy="787.2" r="3.3"/><circle cx="345.9" cy="761.6" r="3.3"/><circle cx="305.4" cy="828.2" r="3.3"/><circle cx="317.7" cy="850.9" r="3.3"/><circle cx="308.1" cy="810.0" r="3.3"/><circle cx="268.8" cy="867.1" r="3.3"/><circle cx="362.3" cy="821.9" r="3.3"/><circle cx="325.9" cy="798.6" r="3.3"/><circle cx="356.4" cy="804.4" r="3.3"/><circle cx="323.5" cy="848.2" r="3.3"/><circle cx="342.7" cy="771.0" r="3.3"/><circle cx="305.7" cy="811.4" r="3.3"/><circle cx="388.7" cy="797.3" r="3.3"/><circle cx="381.4" cy="771.4" r="3.3"/><circle cx="347.2" cy="775.3" r="3.3"/><circle cx="306.1" cy="802.7" r="3.3"/><circle cx="366.1" cy="801.6" r="3.3"/><circle cx="337.7" cy="827.8" r="3.3"/><circle cx="348.9" cy="779.4" r="3.3"/><circle cx="347.1" cy="811.4" r="3.3"/><circle cx="289.8" cy="847.6" r="3.3"/><circle cx="298.1" cy="859.0" r="3.3"/><circle cx="315.8" cy="797.0" r="3.3"/><circle cx="333.1" cy="802.8" r="3.3"/><circle cx="354.0" cy="765.7" r="3.3"/><circle cx="325.6" cy="808.8" r="3.3"/><circle cx="300.0" cy="829.7" r="3.3"/><circle cx="315.7" cy="833.3" r="3.3"/><circle cx="290.4" cy="816.8" r="3.3"/><circle cx="332.8" cy="809.1" r="3.3"/><circle cx="293.8" cy="834.7" r="3.3"/><circle cx="287.7" cy="848.3" r="3.3"/><circle cx="323.8" cy="846.8" r="3.3"/><circle cx="355.8" cy="767.0" r="3.3"/><circle cx="343.7" cy="811.6" r="3.3"/><circle cx="349.2" cy="812.2" r="3.3"/><circle cx="328.6" cy="819.6" r="3.3"/><circle cx="347.0" cy="775.4" r="3.3"/><circle cx="294.7" cy="833.7" r="3.3"/><circle cx="291.1" cy="808.5" r="3.3"/><circle cx="315.5" cy="782.9" r="3.3"/><circle cx="274.3" cy="844.5" r="3.3"/><circle cx="356.6" cy="797.4" r="3.3"/><circle cx="341.4" cy="824.3" r="3.3"/><circle cx="326.4" cy="838.7" r="3.3"/><circle cx="319.6" cy="831.5" r="3.3"/><circle cx="299.8" cy="804.2" r="3.3"/><circle cx="360.3" cy="810.3" r="3.3"/><circle cx="326.1" cy="781.2" r="3.3"/><circle cx="358.9" cy="807.9" r="3.3"/><circle cx="281.8" cy="843.3" r="3.3"/><circle cx="314.1" cy="819.3" r="3.3"/><circle cx="283.5" cy="813.8" r="3.3"/><circle cx="310.7" cy="834.3" r="3.3"/><circle cx="328.9" cy="811.5" r="3.3"/><circle cx="367.5" cy="772.1" r="3.3"/><circle cx="331.2" cy="789.7" r="3.3"/><circle cx="322.3" cy="825.9" r="3.3"/><circle cx="369.9" cy="782.7" r="3.3"/><circle cx="347.2" cy="786.2" r="3.3"/><circle cx="342.6" cy="828.3" r="3.3"/><circle cx="348.8" cy="843.1" r="3.3"/><circle cx="318.8" cy="806.4" r="3.3"/><circle cx="334.7" cy="857.4" r="3.3"/><circle cx="357.2" cy="795.5" r="3.3"/><circle cx="310.8" cy="793.0" r="3.3"/><circle cx="324.2" cy="838.0" r="3.3"/><circle cx="370.1" cy="808.9" r="3.3"/><circle cx="295.7" cy="850.5" r="3.3"/><circle cx="317.6" cy="769.7" r="3.3"/><circle cx="328.3" cy="805.2" r="3.3"/><circle cx="330.0" cy="816.5" r="3.3"/><circle cx="340.6" cy="784.1" r="3.3"/><circle cx="392.4" cy="755.4" r="3.3"/><circle cx="359.7" cy="788.0" r="3.3"/><circle cx="350.7" cy="784.1" r="3.3"/><circle cx="318.8" cy="825.0" r="3.3"/><circle cx="352.4" cy="798.7" r="3.3"/><circle cx="321.8" cy="802.4" r="3.3"/><circle cx="319.8" cy="846.7" r="3.3"/><circle cx="281.9" cy="815.8" r="3.3"/><circle cx="348.9" cy="814.1" r="3.3"/><circle cx="328.1" cy="814.0" r="3.3"/><circle cx="319.1" cy="842.9" r="3.3"/><circle cx="347.5" cy="823.4" r="3.3"/><circle cx="289.7" cy="836.8" r="3.3"/><circle cx="314.1" cy="815.7" r="3.3"/><circle cx="294.3" cy="814.0" r="3.3"/><circle cx="292.3" cy="790.1" r="3.3"/><circle cx="346.1" cy="772.5" r="3.3"/><circle cx="325.3" cy="804.7" r="3.3"/><circle cx="335.2" cy="775.6" r="3.3"/><circle cx="297.4" cy="853.7" r="3.3"/><circle cx="378.4" cy="801.9" r="3.3"/><circle cx="326.0" cy="749.6" r="3.3"/><circle cx="347.7" cy="772.5" r="3.3"/><circle cx="357.6" cy="768.5" r="3.3"/><circle cx="305.4" cy="802.1" r="3.3"/><circle cx="303.1" cy="810.1" r="3.3"/><circle cx="328.0" cy="827.2" r="3.3"/><circle cx="316.5" cy="831.1" r="3.3"/><circle cx="333.1" cy="815.7" r="3.3"/><circle cx="319.9" cy="781.2" r="3.3"/><circle cx="347.8" cy="839.7" r="3.3"/><circle cx="340.0" cy="790.0" r="3.3"/><circle cx="367.3" cy="789.3" r="3.3"/><circle cx="295.0" cy="843.2" r="3.3"/><circle cx="331.7" cy="794.0" r="3.3"/><circle cx="348.8" cy="811.6" r="3.3"/><circle cx="310.3" cy="838.8" r="3.3"/><circle cx="366.8" cy="773.5" r="3.3"/><circle cx="317.9" cy="823.7" r="3.3"/><circle cx="341.0" cy="810.2" r="3.3"/><circle cx="321.3" cy="832.9" r="3.3"/><circle cx="331.1" cy="820.4" r="3.3"/><circle cx="370.0" cy="774.2" r="3.3"/><circle cx="357.1" cy="808.1" r="3.3"/><circle cx="344.4" cy="767.2" r="3.3"/><circle cx="294.0" cy="815.3" r="3.3"/><circle cx="329.7" cy="800.7" r="3.3"/><circle cx="339.2" cy="791.8" r="3.3"/><circle cx="337.4" cy="806.3" r="3.3"/><circle cx="347.2" cy="838.3" r="3.3"/><circle cx="349.5" cy="816.2" r="3.3"/><circle cx="349.6" cy="822.4" r="3.3"/><circle cx="325.0" cy="832.6" r="3.3"/><circle cx="335.7" cy="793.7" r="3.3"/><circle cx="345.3" cy="805.7" r="3.3"/><circle cx="323.7" cy="823.1" r="3.3"/><circle cx="296.4" cy="777.5" r="3.3"/><circle cx="330.9" cy="850.3" r="3.3"/><circle cx="353.6" cy="811.0" r="3.3"/><circle cx="310.5" cy="819.1" r="3.3"/><circle cx="308.2" cy="808.7" r="3.3"/><circle cx="330.6" cy="784.3" r="3.3"/><circle cx="356.2" cy="809.9" r="3.3"/><circle cx="358.7" cy="784.5" r="3.3"/><circle cx="368.4" cy="770.9" r="3.3"/><circle cx="338.3" cy="835.4" r="3.3"/><circle cx="281.5" cy="839.0" r="3.3"/><circle cx="291.9" cy="788.4" r="3.3"/><circle cx="344.6" cy="800.0" r="3.3"/><circle cx="323.5" cy="794.2" r="3.3"/><circle cx="339.7" cy="818.6" r="3.3"/><circle cx="321.3" cy="809.2" r="3.3"/><circle cx="337.6" cy="806.3" r="3.3"/><circle cx="344.7" cy="813.5" r="3.3"/><circle cx="306.5" cy="804.1" r="3.3"/><circle cx="349.7" cy="796.3" r="3.3"/><circle cx="349.6" cy="791.0" r="3.3"/><circle cx="378.1" cy="783.2" r="3.3"/><circle cx="331.9" cy="817.8" r="3.3"/><circle cx="338.4" cy="829.0" r="3.3"/><circle cx="356.1" cy="807.8" r="3.3"/><circle cx="328.7" cy="825.8" r="3.3"/><circle cx="313.1" cy="805.1" r="3.3"/><circle cx="336.7" cy="811.1" r="3.3"/><circle cx="381.4" cy="778.5" r="3.3"/><circle cx="314.0" cy="804.8" r="3.3"/><circle cx="343.7" cy="791.7" r="3.3"/><circle cx="320.8" cy="803.8" r="3.3"/><circle cx="305.1" cy="806.1" r="3.3"/><circle cx="354.0" cy="791.3" r="3.3"/><circle cx="363.2" cy="783.6" r="3.3"/><circle cx="308.7" cy="830.4" r="3.3"/><circle cx="348.4" cy="833.0" r="3.3"/><circle cx="371.4" cy="754.4" r="3.3"/><circle cx="296.2" cy="815.3" r="3.3"/><circle cx="373.5" cy="788.0" r="3.3"/><circle cx="332.8" cy="812.3" r="3.3"/><circle cx="302.1" cy="842.2" r="3.3"/><circle cx="351.5" cy="780.8" r="3.3"/><circle cx="320.5" cy="842.7" r="3.3"/><circle cx="320.7" cy="811.2" r="3.3"/><circle cx="372.2" cy="824.4" r="3.3"/><circle cx="324.1" cy="787.8" r="3.3"/><circle cx="315.5" cy="815.8" r="3.3"/><circle cx="334.8" cy="810.3" r="3.3"/><circle cx="331.5" cy="822.1" r="3.3"/><circle cx="357.7" cy="816.4" r="3.3"/><circle cx="356.2" cy="775.6" r="3.3"/><circle cx="304.8" cy="816.7" r="3.3"/><circle cx="347.7" cy="776.5" r="3.3"/><circle cx="370.7" cy="789.5" r="3.3"/><circle cx="337.3" cy="794.6" r="3.3"/><circle cx="393.9" cy="788.8" r="3.3"/><circle cx="379.1" cy="785.6" r="3.3"/><circle cx="316.1" cy="857.4" r="3.3"/><circle cx="346.2" cy="786.1" r="3.3"/><circle cx="328.6" cy="831.6" r="3.3"/><circle cx="303.3" cy="837.2" r="3.3"/><circle cx="348.1" cy="833.5" r="3.3"/><circle cx="337.9" cy="830.1" r="3.3"/><circle cx="324.4" cy="780.3" r="3.3"/><circle cx="370.9" cy="821.9" r="3.3"/><circle cx="285.9" cy="804.0" r="3.3"/><circle cx="328.7" cy="813.3" r="3.3"/><circle cx="381.2" cy="795.3" r="3.3"/><circle cx="344.9" cy="846.7" r="3.3"/><circle cx="359.6" cy="782.2" r="3.3"/><circle cx="382.0" cy="772.4" r="3.3"/><circle cx="384.9" cy="771.8" r="3.3"/><circle cx="336.9" cy="815.4" r="3.3"/><circle cx="379.3" cy="761.7" r="3.3"/><circle cx="345.1" cy="749.4" r="3.3"/><circle cx="320.2" cy="810.8" r="3.3"/><circle cx="377.2" cy="824.0" r="3.3"/><circle cx="317.3" cy="802.3" r="3.3"/><circle cx="356.8" cy="771.8" r="3.3"/><circle cx="301.7" cy="860.6" r="3.3"/><circle cx="320.3" cy="799.5" r="3.3"/><circle cx="380.7" cy="770.7" r="3.3"/><circle cx="338.9" cy="818.1" r="3.3"/><circle cx="374.9" cy="763.2" r="3.3"/><circle cx="362.8" cy="817.3" r="3.3"/><circle cx="311.4" cy="840.7" r="3.3"/><circle cx="337.2" cy="817.4" r="3.3"/><circle cx="320.0" cy="803.7" r="3.3"/><circle cx="367.5" cy="835.4" r="3.3"/><circle cx="373.5" cy="803.7" r="3.3"/><circle cx="335.6" cy="796.3" r="3.3"/><circle cx="330.9" cy="805.8" r="3.3"/></g>
<rect x="201.0" y="669.0" width="269.7" height="276.0" fill="none" stroke="#000" stroke-width="2.6"/>
<text x="240.80" y="993.40" font-size="35.5" textLength="27.74" lengthAdjust="spacingAndGlyphs">-1</text>
<text x="322.18" y="993.40" font-size="35.5" textLength="19.68" lengthAdjust="spacingAndGlyphs">0</text>
<text x="398.12" y="993.40" font-size="35.5" textLength="15.43" lengthAdjust="spacingAndGlyphs">1</text>
<text x="172.6" y="737.7" font-size="35.5" text-anchor="end">2</text>
<text x="172.6" y="816.0" font-size="35.5" text-anchor="end">0</text>
<text x="172.6" y="897.0" font-size="35.5" text-anchor="end">-2</text>
<text x="210.34" y="633.20" font-size="38.7" textLength="219.74" lengthAdjust="spacingAndGlyphs">TCGA cohort</text>
<text x="211.01" y="694.50" font-size="21.8" textLength="83.97" lengthAdjust="spacingAndGlyphs">ρ = 0.58</text>
<text x="209.30" y="717.70" font-size="22" textLength="123.31" lengthAdjust="spacingAndGlyphs">P &lt; 2.2 x 10</text>
<text x="333.67" y="702.50" font-size="12.3" textLength="20.12" lengthAdjust="spacingAndGlyphs">-16</text>
<text x="176.67" y="1035.00" font-size="38.4" textLength="323.79" lengthAdjust="spacingAndGlyphs">Basal/intermediate</text>
<text x="242.42" y="1080.80" font-size="38.4" textLength="161.10" lengthAdjust="spacingAndGlyphs">signature</text>
<text x="91.50" y="915.74" font-size="39" textLength="170.29" lengthAdjust="spacingAndGlyphs" transform="rotate(-90 91.50 915.74)">Corrected</text>
<text x="123.70" y="1004.17" font-size="39" textLength="344.63" lengthAdjust="spacingAndGlyphs" transform="rotate(-90 123.70 1004.17)">expression of CCL2</text>
<path d="M104.6,1191.8V1196.8M104.6,1476.6V1481.6M140.6,1191.8V1196.8M140.6,1476.6V1481.6M176.3,1191.8V1196.8M176.3,1476.6V1481.6M212.4,1191.8V1196.8M212.4,1476.6V1481.6M248.8,1191.8V1196.8M248.8,1476.6V1481.6M285.4,1191.8V1196.8M285.4,1476.6V1481.6M321.8,1191.8V1196.8M321.8,1476.6V1481.6M69.5,1222.5H74.5M338.5,1222.5H343.5M69.5,1261.2H74.5M338.5,1261.2H343.5M69.5,1299.7H74.5M338.5,1299.7H343.5M69.5,1338.4H74.5M338.5,1338.4H343.5M69.5,1377.6H74.5M338.5,1377.6H343.5M69.5,1416.2H74.5M338.5,1416.2H343.5M69.5,1455.2H74.5M338.5,1455.2H343.5" stroke="#000" stroke-width="2.2" fill="none"/>
<g fill="#000"><circle cx="246.1" cy="1215.3" r="3.1"/><circle cx="196.4" cy="1226.2" r="3.1"/><circle cx="221.0" cy="1233.4" r="3.1"/><circle cx="212.0" cy="1246.8" r="3.1"/><circle cx="237.6" cy="1247.2" r="3.1"/><circle cx="270.8" cy="1245.7" r="3.1"/><circle cx="320.9" cy="1257.0" r="3.1"/><circle cx="228.7" cy="1256.1" r="3.1"/><circle cx="199.8" cy="1262.7" r="3.1"/><circle cx="221.9" cy="1260.9" r="3.1"/><circle cx="244.8" cy="1262.9" r="3.1"/><circle cx="261.3" cy="1259.7" r="3.1"/><circle cx="261.3" cy="1263.3" r="3.1"/><circle cx="257.7" cy="1268.3" r="3.1"/><circle cx="186.9" cy="1268.3" r="3.1"/><circle cx="218.3" cy="1266.3" r="3.1"/><circle cx="224.2" cy="1267.8" r="3.1"/><circle cx="234.1" cy="1267.4" r="3.1"/><circle cx="240.3" cy="1270.1" r="3.1"/><circle cx="204.0" cy="1274.0" r="3.1"/><circle cx="216.5" cy="1275.8" r="3.1"/><circle cx="235.3" cy="1275.8" r="3.1"/><circle cx="274.7" cy="1281.2" r="3.1"/><circle cx="285.8" cy="1281.2" r="3.1"/><circle cx="252.3" cy="1282.4" r="3.1"/><circle cx="221.0" cy="1280.3" r="3.1"/><circle cx="229.0" cy="1281.2" r="3.1"/><circle cx="269.0" cy="1289.2" r="3.1"/><circle cx="259.5" cy="1285.7" r="3.1"/><circle cx="283.7" cy="1297.3" r="3.1"/><circle cx="278.3" cy="1302.7" r="3.1"/><circle cx="271.5" cy="1305.4" r="3.1"/><circle cx="304.8" cy="1304.5" r="3.1"/><circle cx="287.6" cy="1313.8" r="3.1"/><circle cx="270.8" cy="1312.5" r="3.1"/><circle cx="287.3" cy="1324.7" r="3.1"/><circle cx="292.3" cy="1335.8" r="3.1"/><circle cx="280.1" cy="1332.6" r="3.1"/><circle cx="277.4" cy="1342.1" r="3.1"/><circle cx="276.9" cy="1344.8" r="3.1"/><circle cx="265.8" cy="1335.3" r="3.1"/><circle cx="264.0" cy="1321.5" r="3.1"/><circle cx="263.1" cy="1296.9" r="3.1"/><circle cx="265.8" cy="1300.9" r="3.1"/><circle cx="179.8" cy="1294.6" r="3.1"/><circle cx="182.5" cy="1300.0" r="3.1"/><circle cx="164.6" cy="1305.4" r="3.1"/><circle cx="172.6" cy="1309.8" r="3.1"/><circle cx="167.8" cy="1314.3" r="3.1"/><circle cx="183.9" cy="1310.7" r="3.1"/><circle cx="194.1" cy="1285.7" r="3.1"/><circle cx="198.2" cy="1285.1" r="3.1"/><circle cx="146.8" cy="1334.9" r="3.1"/><circle cx="158.8" cy="1339.8" r="3.1"/><circle cx="162.8" cy="1326.3" r="3.1"/><circle cx="172.6" cy="1319.7" r="3.1"/><circle cx="132.5" cy="1364.8" r="3.1"/><circle cx="160.3" cy="1369.0" r="3.1"/><circle cx="146.6" cy="1377.9" r="3.1"/><circle cx="140.4" cy="1388.7" r="3.1"/><circle cx="149.3" cy="1385.4" r="3.1"/><circle cx="152.0" cy="1385.4" r="3.1"/><circle cx="132.7" cy="1398.5" r="3.1"/><circle cx="148.4" cy="1402.6" r="3.1"/><circle cx="139.1" cy="1410.1" r="3.1"/><circle cx="148.4" cy="1417.0" r="3.1"/><circle cx="130.0" cy="1425.0" r="3.1"/><circle cx="92.9" cy="1443.8" r="3.1"/><circle cx="152.0" cy="1456.7" r="3.1"/><circle cx="160.4" cy="1430.7" r="3.1"/><circle cx="161.0" cy="1435.2" r="3.1"/><circle cx="176.4" cy="1433.1" r="3.1"/><circle cx="174.4" cy="1422.3" r="3.1"/><circle cx="183.0" cy="1421.4" r="3.1"/><circle cx="205.8" cy="1426.3" r="3.1"/><circle cx="212.0" cy="1421.8" r="3.1"/><circle cx="221.0" cy="1429.8" r="3.1"/><circle cx="229.0" cy="1429.8" r="3.1"/><circle cx="165.8" cy="1411.9" r="3.1"/><circle cx="177.1" cy="1413.7" r="3.1"/><circle cx="181.6" cy="1411.0" r="3.1"/><circle cx="186.1" cy="1408.9" r="3.1"/><circle cx="193.2" cy="1405.7" r="3.1"/><circle cx="201.3" cy="1408.0" r="3.1"/><circle cx="171.7" cy="1407.5" r="3.1"/><circle cx="182.5" cy="1399.0" r="3.1"/><circle cx="218.8" cy="1404.8" r="3.1"/><circle cx="229.9" cy="1403.0" r="3.1"/><circle cx="237.1" cy="1409.3" r="3.1"/><circle cx="251.4" cy="1408.0" r="3.1"/><circle cx="237.6" cy="1392.8" r="3.1"/><circle cx="252.0" cy="1392.6" r="3.1"/><circle cx="277.0" cy="1393.3" r="3.1"/><circle cx="262.2" cy="1381.5" r="3.1"/><circle cx="253.2" cy="1385.1" r="3.1"/><circle cx="255.9" cy="1378.8" r="3.1"/><circle cx="254.7" cy="1371.6" r="3.1"/><circle cx="254.1" cy="1360.5" r="3.1"/><circle cx="226.4" cy="1388.3" r="3.1"/><circle cx="219.2" cy="1395.8" r="3.1"/><circle cx="221.9" cy="1399.4" r="3.1"/><circle cx="211.1" cy="1396.7" r="3.1"/><circle cx="209.3" cy="1393.7" r="3.1"/><circle cx="192.3" cy="1404.8" r="3.1"/><circle cx="153.8" cy="1397.6" r="3.1"/><circle cx="157.4" cy="1394.6" r="3.1"/><circle cx="162.8" cy="1390.4" r="3.1"/><circle cx="166.3" cy="1394.0" r="3.1"/><circle cx="169.9" cy="1399.4" r="3.1"/><circle cx="159.2" cy="1386.9" r="3.1"/><circle cx="178.9" cy="1391.3" r="3.1"/><circle cx="187.8" cy="1392.2" r="3.1"/><circle cx="183.4" cy="1386.9" r="3.1"/><circle cx="175.3" cy="1384.7" r="3.1"/><circle cx="189.6" cy="1381.5" r="3.1"/><circle cx="193.2" cy="1385.1" r="3.1"/><circle cx="205.8" cy="1388.7" r="3.1"/><circle cx="216.5" cy="1383.3" r="3.1"/><circle cx="227.2" cy="1380.6" r="3.1"/><circle cx="223.7" cy="1377.0" r="3.1"/><circle cx="230.6" cy="1323.9" r="3.1"/><circle cx="187.3" cy="1339.6" r="3.1"/><circle cx="231.2" cy="1360.1" r="3.1"/><circle cx="261.5" cy="1288.4" r="3.1"/><circle cx="198.1" cy="1350.9" r="3.1"/><circle cx="204.2" cy="1369.7" r="3.1"/><circle cx="211.6" cy="1336.9" r="3.1"/><circle cx="227.2" cy="1328.5" r="3.1"/><circle cx="213.3" cy="1357.1" r="3.1"/><circle cx="164.5" cy="1386.7" r="3.1"/><circle cx="234.0" cy="1319.4" r="3.1"/><circle cx="257.2" cy="1298.4" r="3.1"/><circle cx="201.0" cy="1354.2" r="3.1"/><circle cx="192.5" cy="1348.9" r="3.1"/><circle cx="242.4" cy="1289.3" r="3.1"/><circle cx="206.5" cy="1361.0" r="3.1"/><circle cx="159.4" cy="1332.5" r="3.1"/><circle cx="205.6" cy="1308.5" r="3.1"/><circle cx="242.4" cy="1340.0" r="3.1"/><circle cx="195.7" cy="1317.8" r="3.1"/><circle cx="200.6" cy="1361.4" r="3.1"/><circle cx="250.3" cy="1292.7" r="3.1"/><circle cx="203.4" cy="1307.8" r="3.1"/><circle cx="227.0" cy="1302.6" r="3.1"/><circle cx="193.7" cy="1364.9" r="3.1"/><circle cx="196.4" cy="1344.8" r="3.1"/><circle cx="185.2" cy="1377.5" r="3.1"/><circle cx="229.5" cy="1348.7" r="3.1"/><circle cx="189.2" cy="1345.7" r="3.1"/><circle cx="229.5" cy="1328.3" r="3.1"/><circle cx="186.7" cy="1346.3" r="3.1"/><circle cx="182.8" cy="1346.3" r="3.1"/><circle cx="232.4" cy="1338.3" r="3.1"/><circle cx="242.9" cy="1346.2" r="3.1"/><circle cx="206.3" cy="1384.8" r="3.1"/><circle cx="214.3" cy="1314.1" r="3.1"/><circle cx="220.5" cy="1290.3" r="3.1"/><circle cx="215.6" cy="1330.4" r="3.1"/><circle cx="192.1" cy="1355.3" r="3.1"/><circle cx="209.0" cy="1356.6" r="3.1"/><circle cx="239.5" cy="1302.5" r="3.1"/><circle cx="228.8" cy="1311.3" r="3.1"/><circle cx="203.5" cy="1315.6" r="3.1"/><circle cx="255.9" cy="1336.5" r="3.1"/><circle cx="205.1" cy="1353.6" r="3.1"/><circle cx="199.1" cy="1382.3" r="3.1"/><circle cx="189.5" cy="1324.3" r="3.1"/><circle cx="212.3" cy="1338.1" r="3.1"/><circle cx="169.4" cy="1313.0" r="3.1"/><circle cx="214.5" cy="1329.0" r="3.1"/><circle cx="190.5" cy="1321.5" r="3.1"/><circle cx="206.9" cy="1301.4" r="3.1"/><circle cx="204.3" cy="1373.4" r="3.1"/><circle cx="238.3" cy="1284.9" r="3.1"/><circle cx="211.6" cy="1323.9" r="3.1"/><circle cx="216.2" cy="1338.9" r="3.1"/><circle cx="211.5" cy="1334.7" r="3.1"/><circle cx="198.9" cy="1326.6" r="3.1"/><circle cx="184.8" cy="1322.1" r="3.1"/><circle cx="198.5" cy="1317.5" r="3.1"/><circle cx="203.1" cy="1320.3" r="3.1"/><circle cx="222.7" cy="1328.9" r="3.1"/><circle cx="215.2" cy="1324.0" r="3.1"/><circle cx="201.1" cy="1341.1" r="3.1"/><circle cx="220.3" cy="1328.8" r="3.1"/><circle cx="239.1" cy="1282.9" r="3.1"/><circle cx="177.7" cy="1348.9" r="3.1"/><circle cx="180.3" cy="1359.5" r="3.1"/><circle cx="228.3" cy="1326.9" r="3.1"/><circle cx="192.5" cy="1309.6" r="3.1"/><circle cx="244.7" cy="1329.8" r="3.1"/><circle cx="236.4" cy="1365.6" r="3.1"/><circle cx="219.6" cy="1344.5" r="3.1"/><circle cx="216.5" cy="1364.8" r="3.1"/><circle cx="235.6" cy="1309.3" r="3.1"/><circle cx="194.5" cy="1318.5" r="3.1"/><circle cx="207.7" cy="1337.2" r="3.1"/><circle cx="211.0" cy="1358.9" r="3.1"/><circle cx="212.4" cy="1320.5" r="3.1"/><circle cx="207.1" cy="1316.3" r="3.1"/><circle cx="211.3" cy="1370.5" r="3.1"/><circle cx="205.7" cy="1322.1" r="3.1"/><circle cx="210.5" cy="1315.6" r="3.1"/><circle cx="236.5" cy="1289.2" r="3.1"/><circle cx="229.4" cy="1325.2" r="3.1"/><circle cx="211.2" cy="1361.5" r="3.1"/><circle cx="188.6" cy="1303.1" r="3.1"/><circle cx="224.8" cy="1357.4" r="3.1"/><circle cx="198.0" cy="1292.4" r="3.1"/><circle cx="204.4" cy="1365.4" r="3.1"/><circle cx="229.3" cy="1348.4" r="3.1"/><circle cx="200.5" cy="1330.6" r="3.1"/><circle cx="221.6" cy="1366.1" r="3.1"/><circle cx="239.9" cy="1318.2" r="3.1"/><circle cx="259.6" cy="1289.8" r="3.1"/><circle cx="247.7" cy="1347.1" r="3.1"/><circle cx="257.7" cy="1283.1" r="3.1"/><circle cx="212.0" cy="1360.6" r="3.1"/><circle cx="225.7" cy="1307.5" r="3.1"/><circle cx="194.0" cy="1340.9" r="3.1"/><circle cx="195.0" cy="1292.6" r="3.1"/><circle cx="242.1" cy="1317.4" r="3.1"/><circle cx="242.8" cy="1368.2" r="3.1"/><circle cx="172.1" cy="1347.6" r="3.1"/><circle cx="188.3" cy="1311.2" r="3.1"/><circle cx="245.9" cy="1325.5" r="3.1"/><circle cx="201.6" cy="1327.8" r="3.1"/><circle cx="224.5" cy="1348.8" r="3.1"/><circle cx="180.9" cy="1361.7" r="3.1"/><circle cx="206.1" cy="1307.2" r="3.1"/><circle cx="209.9" cy="1355.1" r="3.1"/><circle cx="263.7" cy="1304.4" r="3.1"/><circle cx="211.7" cy="1317.1" r="3.1"/><circle cx="191.6" cy="1330.3" r="3.1"/><circle cx="212.3" cy="1332.1" r="3.1"/><circle cx="216.4" cy="1340.9" r="3.1"/><circle cx="192.2" cy="1317.4" r="3.1"/><circle cx="197.3" cy="1365.5" r="3.1"/><circle cx="213.5" cy="1365.6" r="3.1"/><circle cx="171.4" cy="1330.3" r="3.1"/><circle cx="242.3" cy="1323.8" r="3.1"/><circle cx="239.0" cy="1389.3" r="3.1"/><circle cx="244.5" cy="1352.9" r="3.1"/><circle cx="204.6" cy="1304.2" r="3.1"/><circle cx="232.4" cy="1306.2" r="3.1"/><circle cx="202.5" cy="1372.5" r="3.1"/><circle cx="197.1" cy="1346.5" r="3.1"/><circle cx="217.1" cy="1323.4" r="3.1"/><circle cx="211.5" cy="1380.0" r="3.1"/><circle cx="233.6" cy="1349.6" r="3.1"/><circle cx="189.3" cy="1353.5" r="3.1"/><circle cx="195.3" cy="1385.9" r="3.1"/><circle cx="209.4" cy="1334.9" r="3.1"/><circle cx="201.7" cy="1352.2" r="3.1"/><circle cx="250.1" cy="1345.3" r="3.1"/><circle cx="172.2" cy="1311.0" r="3.1"/><circle cx="208.3" cy="1372.0" r="3.1"/><circle cx="223.2" cy="1354.2" r="3.1"/><circle cx="218.2" cy="1323.2" r="3.1"/><circle cx="221.6" cy="1283.1" r="3.1"/><circle cx="182.0" cy="1336.1" r="3.1"/><circle cx="212.9" cy="1313.0" r="3.1"/><circle cx="204.2" cy="1342.8" r="3.1"/><circle cx="218.4" cy="1374.3" r="3.1"/><circle cx="162.2" cy="1357.2" r="3.1"/><circle cx="218.5" cy="1321.3" r="3.1"/><circle cx="219.0" cy="1322.0" r="3.1"/><circle cx="194.7" cy="1316.3" r="3.1"/><circle cx="213.2" cy="1331.7" r="3.1"/><circle cx="211.9" cy="1324.5" r="3.1"/><circle cx="215.7" cy="1361.7" r="3.1"/><circle cx="219.3" cy="1357.3" r="3.1"/><circle cx="202.1" cy="1336.7" r="3.1"/><circle cx="200.8" cy="1387.6" r="3.1"/><circle cx="190.5" cy="1356.9" r="3.1"/><circle cx="192.2" cy="1292.1" r="3.1"/><circle cx="185.1" cy="1325.0" r="3.1"/><circle cx="195.5" cy="1357.6" r="3.1"/><circle cx="254.0" cy="1320.4" r="3.1"/><circle cx="203.0" cy="1323.8" r="3.1"/><circle cx="210.9" cy="1346.9" r="3.1"/><circle cx="245.0" cy="1321.7" r="3.1"/><circle cx="218.4" cy="1333.8" r="3.1"/><circle cx="176.6" cy="1351.5" r="3.1"/><circle cx="253.4" cy="1334.1" r="3.1"/><circle cx="179.3" cy="1368.7" r="3.1"/><circle cx="191.7" cy="1344.8" r="3.1"/><circle cx="211.8" cy="1362.1" r="3.1"/><circle cx="176.1" cy="1367.0" r="3.1"/><circle cx="187.8" cy="1328.4" r="3.1"/><circle cx="214.3" cy="1350.5" r="3.1"/><circle cx="213.4" cy="1346.1" r="3.1"/><circle cx="221.8" cy="1367.1" r="3.1"/><circle cx="211.3" cy="1313.8" r="3.1"/><circle cx="186.4" cy="1369.8" r="3.1"/><circle cx="186.6" cy="1341.3" r="3.1"/><circle cx="232.1" cy="1369.8" r="3.1"/><circle cx="188.8" cy="1338.6" r="3.1"/><circle cx="211.2" cy="1321.7" r="3.1"/><circle cx="221.1" cy="1325.9" r="3.1"/><circle cx="192.1" cy="1292.1" r="3.1"/><circle cx="239.3" cy="1307.4" r="3.1"/><circle cx="223.7" cy="1300.0" r="3.1"/><circle cx="169.7" cy="1360.1" r="3.1"/><circle cx="180.2" cy="1277.2" r="3.1"/><circle cx="216.2" cy="1347.9" r="3.1"/><circle cx="187.1" cy="1326.5" r="3.1"/><circle cx="172.8" cy="1334.1" r="3.1"/><circle cx="207.6" cy="1346.1" r="3.1"/><circle cx="244.5" cy="1332.1" r="3.1"/><circle cx="190.9" cy="1301.4" r="3.1"/><circle cx="233.7" cy="1345.0" r="3.1"/><circle cx="192.1" cy="1303.9" r="3.1"/><circle cx="225.4" cy="1327.1" r="3.1"/><circle cx="239.0" cy="1309.7" r="3.1"/><circle cx="197.9" cy="1328.9" r="3.1"/><circle cx="247.1" cy="1292.6" r="3.1"/><circle cx="165.8" cy="1362.0" r="3.1"/><circle cx="239.9" cy="1351.6" r="3.1"/><circle cx="261.8" cy="1308.0" r="3.1"/><circle cx="241.7" cy="1300.5" r="3.1"/><circle cx="206.9" cy="1293.5" r="3.1"/><circle cx="212.4" cy="1308.8" r="3.1"/><circle cx="207.5" cy="1345.7" r="3.1"/><circle cx="214.3" cy="1305.8" r="3.1"/><circle cx="201.6" cy="1326.5" r="3.1"/><circle cx="197.6" cy="1315.0" r="3.1"/><circle cx="259.6" cy="1339.6" r="3.1"/><circle cx="215.2" cy="1333.6" r="3.1"/><circle cx="202.4" cy="1306.1" r="3.1"/><circle cx="191.0" cy="1374.2" r="3.1"/><circle cx="227.3" cy="1344.5" r="3.1"/><circle cx="240.7" cy="1314.7" r="3.1"/><circle cx="218.9" cy="1353.5" r="3.1"/><circle cx="219.6" cy="1306.5" r="3.1"/><circle cx="226.4" cy="1275.3" r="3.1"/><circle cx="198.7" cy="1335.4" r="3.1"/><circle cx="173.1" cy="1342.1" r="3.1"/><circle cx="179.3" cy="1310.6" r="3.1"/><circle cx="197.4" cy="1334.0" r="3.1"/><circle cx="182.9" cy="1360.5" r="3.1"/><circle cx="204.9" cy="1345.4" r="3.1"/><circle cx="224.7" cy="1338.7" r="3.1"/><circle cx="229.8" cy="1375.2" r="3.1"/><circle cx="230.9" cy="1290.3" r="3.1"/><circle cx="223.5" cy="1299.3" r="3.1"/><circle cx="238.1" cy="1304.0" r="3.1"/><circle cx="204.1" cy="1352.5" r="3.1"/><circle cx="177.4" cy="1300.0" r="3.1"/><circle cx="211.7" cy="1288.3" r="3.1"/><circle cx="226.5" cy="1346.4" r="3.1"/><circle cx="178.4" cy="1359.1" r="3.1"/><circle cx="229.2" cy="1326.4" r="3.1"/><circle cx="201.1" cy="1344.4" r="3.1"/><circle cx="259.9" cy="1291.0" r="3.1"/><circle cx="169.1" cy="1325.9" r="3.1"/><circle cx="210.9" cy="1338.3" r="3.1"/><circle cx="206.7" cy="1322.9" r="3.1"/><circle cx="248.4" cy="1292.2" r="3.1"/><circle cx="162.5" cy="1324.7" r="3.1"/><circle cx="187.6" cy="1333.1" r="3.1"/><circle cx="223.9" cy="1337.3" r="3.1"/><circle cx="266.5" cy="1327.2" r="3.1"/><circle cx="222.5" cy="1334.9" r="3.1"/><circle cx="203.2" cy="1332.2" r="3.1"/><circle cx="242.4" cy="1308.8" r="3.1"/><circle cx="241.6" cy="1352.9" r="3.1"/><circle cx="196.4" cy="1314.5" r="3.1"/><circle cx="213.1" cy="1325.8" r="3.1"/><circle cx="166.1" cy="1328.4" r="3.1"/><circle cx="216.5" cy="1328.2" r="3.1"/><circle cx="199.1" cy="1345.1" r="3.1"/><circle cx="237.6" cy="1331.2" r="3.1"/><circle cx="203.2" cy="1368.8" r="3.1"/><circle cx="211.0" cy="1332.5" r="3.1"/><circle cx="208.3" cy="1357.6" r="3.1"/><circle cx="243.1" cy="1337.7" r="3.1"/><circle cx="190.8" cy="1315.7" r="3.1"/><circle cx="254.1" cy="1329.7" r="3.1"/><circle cx="169.7" cy="1348.3" r="3.1"/><circle cx="209.2" cy="1358.4" r="3.1"/><circle cx="171.6" cy="1341.0" r="3.1"/><circle cx="202.1" cy="1312.8" r="3.1"/><circle cx="183.5" cy="1356.3" r="3.1"/><circle cx="180.9" cy="1306.1" r="3.1"/><circle cx="194.9" cy="1354.2" r="3.1"/><circle cx="202.0" cy="1354.5" r="3.1"/><circle cx="186.3" cy="1349.7" r="3.1"/><circle cx="193.2" cy="1349.5" r="3.1"/><circle cx="239.3" cy="1310.9" r="3.1"/><circle cx="222.6" cy="1296.8" r="3.1"/><circle cx="214.2" cy="1342.9" r="3.1"/><circle cx="234.5" cy="1335.0" r="3.1"/><circle cx="251.3" cy="1314.3" r="3.1"/><circle cx="207.0" cy="1375.6" r="3.1"/><circle cx="183.7" cy="1331.2" r="3.1"/><circle cx="200.8" cy="1306.7" r="3.1"/><circle cx="247.6" cy="1338.7" r="3.1"/><circle cx="244.6" cy="1287.6" r="3.1"/><circle cx="218.2" cy="1338.5" r="3.1"/><circle cx="193.7" cy="1338.7" r="3.1"/><circle cx="215.9" cy="1323.2" r="3.1"/><circle cx="196.3" cy="1367.6" r="3.1"/><circle cx="228.5" cy="1373.9" r="3.1"/><circle cx="221.7" cy="1327.2" r="3.1"/><circle cx="173.6" cy="1370.6" r="3.1"/><circle cx="237.6" cy="1310.0" r="3.1"/><circle cx="188.7" cy="1357.1" r="3.1"/><circle cx="230.6" cy="1305.5" r="3.1"/><circle cx="190.2" cy="1371.0" r="3.1"/><circle cx="244.7" cy="1306.9" r="3.1"/><circle cx="175.8" cy="1357.8" r="3.1"/><circle cx="210.7" cy="1307.3" r="3.1"/><circle cx="221.1" cy="1362.5" r="3.1"/><circle cx="165.9" cy="1333.1" r="3.1"/><circle cx="256.2" cy="1310.6" r="3.1"/><circle cx="213.1" cy="1378.8" r="3.1"/><circle cx="188.8" cy="1345.1" r="3.1"/><circle cx="196.5" cy="1299.7" r="3.1"/><circle cx="217.1" cy="1291.7" r="3.1"/><circle cx="253.7" cy="1292.9" r="3.1"/><circle cx="235.7" cy="1292.1" r="3.1"/><circle cx="200.8" cy="1339.7" r="3.1"/><circle cx="221.2" cy="1327.8" r="3.1"/><circle cx="229.3" cy="1317.6" r="3.1"/><circle cx="232.3" cy="1370.3" r="3.1"/><circle cx="204.0" cy="1387.2" r="3.1"/><circle cx="166.1" cy="1347.6" r="3.1"/><circle cx="189.2" cy="1326.5" r="3.1"/><circle cx="247.8" cy="1368.3" r="3.1"/><circle cx="203.6" cy="1321.9" r="3.1"/><circle cx="212.5" cy="1316.5" r="3.1"/><circle cx="238.5" cy="1307.5" r="3.1"/><circle cx="251.5" cy="1324.2" r="3.1"/><circle cx="195.7" cy="1357.2" r="3.1"/><circle cx="236.4" cy="1314.8" r="3.1"/><circle cx="172.4" cy="1320.8" r="3.1"/><circle cx="191.7" cy="1324.7" r="3.1"/><circle cx="197.2" cy="1331.0" r="3.1"/><circle cx="213.9" cy="1367.7" r="3.1"/><circle cx="204.8" cy="1331.7" r="3.1"/><circle cx="227.2" cy="1337.5" r="3.1"/><circle cx="197.1" cy="1337.6" r="3.1"/><circle cx="205.2" cy="1314.7" r="3.1"/><circle cx="210.1" cy="1310.5" r="3.1"/><circle cx="201.4" cy="1353.0" r="3.1"/><circle cx="227.8" cy="1289.8" r="3.1"/><circle cx="225.9" cy="1359.3" r="3.1"/><circle cx="230.9" cy="1351.6" r="3.1"/><circle cx="184.1" cy="1318.6" r="3.1"/><circle cx="225.2" cy="1336.6" r="3.1"/><circle cx="237.5" cy="1313.2" r="3.1"/><circle cx="234.5" cy="1294.3" r="3.1"/><circle cx="200.2" cy="1303.8" r="3.1"/><circle cx="225.4" cy="1297.6" r="3.1"/><circle cx="185.0" cy="1378.3" r="3.1"/><circle cx="225.5" cy="1322.1" r="3.1"/><circle cx="217.5" cy="1308.4" r="3.1"/><circle cx="190.1" cy="1324.3" r="3.1"/><circle cx="245.0" cy="1294.5" r="3.1"/><circle cx="191.7" cy="1329.3" r="3.1"/><circle cx="203.3" cy="1364.3" r="3.1"/><circle cx="191.1" cy="1298.9" r="3.1"/><circle cx="195.8" cy="1328.9" r="3.1"/><circle cx="177.7" cy="1342.8" r="3.1"/><circle cx="215.6" cy="1290.2" r="3.1"/><circle cx="193.8" cy="1353.0" r="3.1"/><circle cx="190.5" cy="1330.3" r="3.1"/><circle cx="197.8" cy="1340.2" r="3.1"/><circle cx="221.8" cy="1331.9" r="3.1"/><circle cx="166.2" cy="1335.2" r="3.1"/><circle cx="178.3" cy="1388.9" r="3.1"/><circle cx="228.5" cy="1330.6" r="3.1"/><circle cx="214.2" cy="1337.8" r="3.1"/><circle cx="180.8" cy="1349.5" r="3.1"/><circle cx="230.8" cy="1345.7" r="3.1"/><circle cx="242.1" cy="1328.5" r="3.1"/><circle cx="195.0" cy="1380.5" r="3.1"/><circle cx="210.4" cy="1362.5" r="3.1"/><circle cx="196.6" cy="1368.5" r="3.1"/><circle cx="244.8" cy="1291.4" r="3.1"/><circle cx="216.2" cy="1355.0" r="3.1"/><circle cx="203.8" cy="1308.2" r="3.1"/><circle cx="209.6" cy="1344.6" r="3.1"/><circle cx="213.3" cy="1309.6" r="3.1"/><circle cx="188.8" cy="1349.3" r="3.1"/><circle cx="194.3" cy="1328.5" r="3.1"/><circle cx="201.4" cy="1358.5" r="3.1"/><circle cx="233.1" cy="1331.2" r="3.1"/><circle cx="195.9" cy="1344.4" r="3.1"/><circle cx="168.8" cy="1363.8" r="3.1"/><circle cx="227.6" cy="1295.6" r="3.1"/><circle cx="238.9" cy="1326.3" r="3.1"/><circle cx="211.9" cy="1338.4" r="3.1"/><circle cx="190.1" cy="1361.7" r="3.1"/><circle cx="237.0" cy="1291.0" r="3.1"/><circle cx="225.6" cy="1311.6" r="3.1"/><circle cx="212.3" cy="1308.1" r="3.1"/><circle cx="194.2" cy="1319.4" r="3.1"/><circle cx="225.3" cy="1314.2" r="3.1"/></g>
<rect x="74.5" y="1196.8" width="264.0" height="279.8" fill="none" stroke="#000" stroke-width="2.4"/>
<text x="137.4" y="1509.0" font-size="23.5" text-anchor="middle">−2</text>
<text x="212.2" y="1509.0" font-size="23.5" text-anchor="middle">0</text>
<text x="286.6" y="1509.0" font-size="23.5" text-anchor="middle">2</text>
<text x="61.0" y="1269.9" font-size="24.5" text-anchor="end">1</text>
<text x="61.0" y="1347.1" font-size="24.5" text-anchor="end">0</text>
<text x="61.0" y="1424.9" font-size="24.5" text-anchor="end">-1</text>
<text x="80.24" y="1168.00" font-size="44.5" textLength="246.08" lengthAdjust="spacingAndGlyphs">TCGA cohort</text>
<text x="186.49" y="1443.40" font-size="22" textLength="84.94" lengthAdjust="spacingAndGlyphs">ρ = 0.45</text>
<text x="184.99" y="1466.70" font-size="22" textLength="123.72" lengthAdjust="spacingAndGlyphs">P &lt; 2.2 x 10</text>
<text x="309.78" y="1451.70" font-size="12.3" textLength="19.91" lengthAdjust="spacingAndGlyphs">-16</text>
<text x="86.77" y="1553.50" font-size="44.5" textLength="244.37" lengthAdjust="spacingAndGlyphs">Macrophage</text>
<path d="M408.7,1191.4V1196.4M408.7,1475.1V1480.1M460.9,1191.4V1196.4M460.9,1475.1V1480.1M512.8,1191.4V1196.4M512.8,1475.1V1480.1M565.2,1191.4V1196.4M565.2,1475.1V1480.1M617.1,1191.4V1196.4M617.1,1475.1V1480.1M389.4,1254.0H394.4M657.6,1254.0H662.6M389.4,1308.6H394.4M657.6,1308.6H662.6M389.4,1363.0H394.4M657.6,1363.0H662.6M389.4,1418.1H394.4M657.6,1418.1H662.6M389.4,1473.8H394.4M657.6,1473.8H662.6" stroke="#000" stroke-width="2.2" fill="none"/>
<g fill="#000"><circle cx="554.0" cy="1223.6" r="3.1"/><circle cx="518.8" cy="1235.9" r="3.1"/><circle cx="553.2" cy="1245.2" r="3.1"/><circle cx="526.3" cy="1263.2" r="3.1"/><circle cx="528.5" cy="1267.6" r="3.1"/><circle cx="531.4" cy="1272.2" r="3.1"/><circle cx="505.2" cy="1276.0" r="3.1"/><circle cx="456.5" cy="1285.0" r="3.1"/><circle cx="520.8" cy="1289.6" r="3.1"/><circle cx="521.4" cy="1296.2" r="3.1"/><circle cx="539.3" cy="1291.3" r="3.1"/><circle cx="575.6" cy="1296.2" r="3.1"/><circle cx="488.3" cy="1301.2" r="3.1"/><circle cx="500.8" cy="1299.6" r="3.1"/><circle cx="506.5" cy="1299.4" r="3.1"/><circle cx="509.8" cy="1305.2" r="3.1"/><circle cx="563.4" cy="1299.4" r="3.1"/><circle cx="569.0" cy="1300.6" r="3.1"/><circle cx="549.0" cy="1303.3" r="3.1"/><circle cx="575.2" cy="1306.6" r="3.1"/><circle cx="603.0" cy="1307.2" r="3.1"/><circle cx="474.0" cy="1306.2" r="3.1"/><circle cx="480.2" cy="1310.8" r="3.1"/><circle cx="465.9" cy="1313.7" r="3.1"/><circle cx="518.3" cy="1310.8" r="3.1"/><circle cx="521.0" cy="1314.9" r="3.1"/><circle cx="528.1" cy="1313.7" r="3.1"/><circle cx="555.9" cy="1316.2" r="3.1"/><circle cx="557.8" cy="1314.9" r="3.1"/><circle cx="554.6" cy="1317.4" r="3.1"/><circle cx="499.2" cy="1319.0" r="3.1"/><circle cx="507.1" cy="1323.0" r="3.1"/><circle cx="544.7" cy="1321.2" r="3.1"/><circle cx="482.2" cy="1324.3" r="3.1"/><circle cx="551.2" cy="1329.0" r="3.1"/><circle cx="556.5" cy="1331.7" r="3.1"/><circle cx="560.9" cy="1333.4" r="3.1"/><circle cx="567.1" cy="1331.1" r="3.1"/><circle cx="572.1" cy="1328.6" r="3.1"/><circle cx="570.2" cy="1332.4" r="3.1"/><circle cx="484.9" cy="1337.7" r="3.1"/><circle cx="489.3" cy="1340.6" r="3.1"/><circle cx="504.2" cy="1335.6" r="3.1"/><circle cx="511.1" cy="1338.1" r="3.1"/><circle cx="514.8" cy="1340.0" r="3.1"/><circle cx="519.2" cy="1337.5" r="3.1"/><circle cx="517.3" cy="1341.8" r="3.1"/><circle cx="521.0" cy="1344.9" r="3.1"/><circle cx="534.7" cy="1335.6" r="3.1"/><circle cx="539.7" cy="1338.5" r="3.1"/><circle cx="545.3" cy="1335.2" r="3.1"/><circle cx="574.6" cy="1337.5" r="3.1"/><circle cx="567.1" cy="1339.0" r="3.1"/><circle cx="552.8" cy="1342.7" r="3.1"/><circle cx="559.6" cy="1347.2" r="3.1"/><circle cx="575.8" cy="1346.2" r="3.1"/><circle cx="575.2" cy="1348.1" r="3.1"/><circle cx="594.5" cy="1346.8" r="3.1"/><circle cx="497.4" cy="1344.7" r="3.1"/><circle cx="491.1" cy="1347.4" r="3.1"/><circle cx="486.2" cy="1351.2" r="3.1"/><circle cx="488.6" cy="1353.0" r="3.1"/><circle cx="486.8" cy="1355.5" r="3.1"/><circle cx="489.9" cy="1358.0" r="3.1"/><circle cx="492.4" cy="1364.9" r="3.1"/><circle cx="499.9" cy="1352.4" r="3.1"/><circle cx="501.1" cy="1356.2" r="3.1"/><circle cx="500.5" cy="1361.8" r="3.1"/><circle cx="503.6" cy="1363.6" r="3.1"/><circle cx="506.7" cy="1354.7" r="3.1"/><circle cx="516.7" cy="1353.0" r="3.1"/><circle cx="521.0" cy="1355.5" r="3.1"/><circle cx="523.5" cy="1358.6" r="3.1"/><circle cx="525.4" cy="1349.9" r="3.1"/><circle cx="532.2" cy="1351.2" r="3.1"/><circle cx="538.5" cy="1348.7" r="3.1"/><circle cx="540.9" cy="1353.0" r="3.1"/><circle cx="536.0" cy="1356.2" r="3.1"/><circle cx="532.2" cy="1358.6" r="3.1"/><circle cx="545.9" cy="1354.9" r="3.1"/><circle cx="549.7" cy="1360.1" r="3.1"/><circle cx="548.4" cy="1364.9" r="3.1"/><circle cx="547.2" cy="1369.9" r="3.1"/><circle cx="544.7" cy="1373.0" r="3.1"/><circle cx="631.9" cy="1355.5" r="3.1"/><circle cx="458.8" cy="1356.8" r="3.1"/><circle cx="473.7" cy="1361.4" r="3.1"/><circle cx="518.5" cy="1365.5" r="3.1"/><circle cx="522.3" cy="1367.4" r="3.1"/><circle cx="525.4" cy="1364.9" r="3.1"/><circle cx="528.5" cy="1369.9" r="3.1"/><circle cx="532.2" cy="1366.7" r="3.1"/><circle cx="534.7" cy="1369.9" r="3.1"/><circle cx="537.2" cy="1373.6" r="3.1"/><circle cx="533.5" cy="1377.3" r="3.1"/><circle cx="507.3" cy="1365.5" r="3.1"/><circle cx="509.8" cy="1368.6" r="3.1"/><circle cx="506.1" cy="1371.7" r="3.1"/><circle cx="513.6" cy="1373.0" r="3.1"/><circle cx="503.6" cy="1374.8" r="3.1"/><circle cx="565.9" cy="1362.6" r="3.1"/><circle cx="564.0" cy="1371.7" r="3.1"/><circle cx="565.2" cy="1371.1" r="3.1"/><circle cx="486.2" cy="1371.1" r="3.1"/><circle cx="474.3" cy="1373.6" r="3.1"/><circle cx="493.6" cy="1375.5" r="3.1"/><circle cx="494.9" cy="1373.6" r="3.1"/><circle cx="526.0" cy="1375.5" r="3.1"/><circle cx="527.3" cy="1379.8" r="3.1"/><circle cx="531.0" cy="1377.3" r="3.1"/><circle cx="546.6" cy="1379.2" r="3.1"/><circle cx="549.0" cy="1384.2" r="3.1"/><circle cx="476.8" cy="1378.6" r="3.1"/><circle cx="479.9" cy="1380.4" r="3.1"/><circle cx="476.2" cy="1382.3" r="3.1"/><circle cx="482.4" cy="1384.8" r="3.1"/><circle cx="517.3" cy="1381.7" r="3.1"/><circle cx="501.1" cy="1382.3" r="3.1"/><circle cx="502.3" cy="1385.4" r="3.1"/><circle cx="507.9" cy="1383.5" r="3.1"/><circle cx="535.3" cy="1384.2" r="3.1"/><circle cx="540.9" cy="1384.8" r="3.1"/><circle cx="541.6" cy="1387.3" r="3.1"/><circle cx="442.6" cy="1384.4" r="3.1"/><circle cx="456.3" cy="1385.4" r="3.1"/><circle cx="467.1" cy="1383.8" r="3.1"/><circle cx="491.1" cy="1387.3" r="3.1"/><circle cx="494.9" cy="1389.2" r="3.1"/><circle cx="498.0" cy="1389.8" r="3.1"/><circle cx="473.7" cy="1389.2" r="3.1"/><circle cx="476.2" cy="1391.6" r="3.1"/><circle cx="509.8" cy="1390.4" r="3.1"/><circle cx="513.6" cy="1389.8" r="3.1"/><circle cx="517.9" cy="1391.6" r="3.1"/><circle cx="507.3" cy="1393.5" r="3.1"/><circle cx="503.6" cy="1394.1" r="3.1"/><circle cx="484.9" cy="1391.6" r="3.1"/><circle cx="486.2" cy="1395.4" r="3.1"/><circle cx="488.6" cy="1397.2" r="3.1"/><circle cx="529.1" cy="1393.5" r="3.1"/><circle cx="548.4" cy="1396.0" r="3.1"/><circle cx="448.2" cy="1394.8" r="3.1"/><circle cx="457.5" cy="1394.1" r="3.1"/><circle cx="462.5" cy="1397.2" r="3.1"/><circle cx="461.2" cy="1401.6" r="3.1"/><circle cx="471.8" cy="1398.5" r="3.1"/><circle cx="499.9" cy="1396.0" r="3.1"/><circle cx="506.1" cy="1396.0" r="3.1"/><circle cx="507.9" cy="1398.5" r="3.1"/><circle cx="491.1" cy="1399.1" r="3.1"/><circle cx="493.6" cy="1401.0" r="3.1"/><circle cx="497.4" cy="1402.2" r="3.1"/><circle cx="495.5" cy="1404.7" r="3.1"/><circle cx="499.2" cy="1406.0" r="3.1"/><circle cx="501.1" cy="1409.7" r="3.1"/><circle cx="479.9" cy="1401.6" r="3.1"/><circle cx="482.4" cy="1404.7" r="3.1"/><circle cx="484.9" cy="1403.5" r="3.1"/><circle cx="519.2" cy="1402.2" r="3.1"/><circle cx="522.3" cy="1404.1" r="3.1"/><circle cx="526.0" cy="1404.7" r="3.1"/><circle cx="539.1" cy="1400.4" r="3.1"/><circle cx="474.9" cy="1408.5" r="3.1"/><circle cx="476.8" cy="1410.9" r="3.1"/><circle cx="478.7" cy="1414.7" r="3.1"/><circle cx="467.5" cy="1412.8" r="3.1"/><circle cx="471.2" cy="1414.1" r="3.1"/><circle cx="481.2" cy="1417.2" r="3.1"/><circle cx="488.6" cy="1409.7" r="3.1"/><circle cx="497.4" cy="1409.1" r="3.1"/><circle cx="508.6" cy="1409.7" r="3.1"/><circle cx="443.8" cy="1415.7" r="3.1"/><circle cx="456.9" cy="1417.2" r="3.1"/><circle cx="501.1" cy="1422.8" r="3.1"/><circle cx="494.9" cy="1426.5" r="3.1"/><circle cx="498.6" cy="1427.1" r="3.1"/><circle cx="503.0" cy="1428.4" r="3.1"/><circle cx="483.0" cy="1427.8" r="3.1"/><circle cx="421.0" cy="1428.4" r="3.1"/><circle cx="428.2" cy="1447.7" r="3.1"/></g>
<rect x="394.4" y="1196.4" width="263.2" height="278.7" fill="none" stroke="#000" stroke-width="2.4"/>
<text x="410.7" y="1509.0" font-size="23.5" text-anchor="middle">-2</text>
<text x="513.6" y="1509.0" font-size="23.5" text-anchor="middle">0</text>
<text x="618.0" y="1509.0" font-size="23.5" text-anchor="middle">2</text>
<text x="386.0" y="1261.6" font-size="21.5" text-anchor="end">1</text>
<text x="386.0" y="1370.6" font-size="21.5" text-anchor="end">0</text>
<text x="386.0" y="1481.4" font-size="21.5" text-anchor="end">-1</text>
<text x="440.23" y="1168.00" font-size="44.5" textLength="449.05" lengthAdjust="spacingAndGlyphs">Ross-Adams et al. 2015</text>
<text x="499.90" y="1443.70" font-size="22" textLength="84.36" lengthAdjust="spacingAndGlyphs">ρ = 0.50</text>
<text x="498.50" y="1466.50" font-size="22" textLength="123.21" lengthAdjust="spacingAndGlyphs">P &lt; 2.2 x 10</text>
<text x="625.36" y="1453.00" font-size="12.3" textLength="20.55" lengthAdjust="spacingAndGlyphs">-16</text>
<text x="404.19" y="1553.50" font-size="44.5" textLength="243.24" lengthAdjust="spacingAndGlyphs">Macrophage</text>
<path d="M706.4,1191.4V1196.4M706.4,1475.1V1480.1M750.7,1191.4V1196.4M750.7,1475.1V1480.1M793.9,1191.4V1196.4M793.9,1475.1V1480.1M838.3,1191.4V1196.4M838.3,1475.1V1480.1M881.7,1191.4V1196.4M881.7,1475.1V1480.1M925.8,1191.4V1196.4M925.8,1475.1V1480.1M663.0,1254.0H668.0M930.4,1254.0H935.4M663.0,1308.6H668.0M930.4,1308.6H935.4M663.0,1363.0H668.0M930.4,1363.0H935.4M663.0,1418.1H668.0M930.4,1418.1H935.4M663.0,1473.8H668.0M930.4,1473.8H935.4" stroke="#000" stroke-width="2.2" fill="none"/>
<g fill="#000"><circle cx="793.7" cy="1223.6" r="3.1"/><circle cx="740.1" cy="1235.9" r="3.1"/><circle cx="755.4" cy="1245.2" r="3.1"/><circle cx="806.5" cy="1263.5" r="3.1"/><circle cx="769.5" cy="1267.9" r="3.1"/><circle cx="794.0" cy="1272.0" r="3.1"/><circle cx="735.1" cy="1276.0" r="3.1"/><circle cx="728.0" cy="1284.8" r="3.1"/><circle cx="729.9" cy="1290.0" r="3.1"/><circle cx="785.3" cy="1291.3" r="3.1"/><circle cx="808.3" cy="1296.2" r="3.1"/><circle cx="820.4" cy="1296.0" r="3.1"/><circle cx="748.6" cy="1299.6" r="3.1"/><circle cx="751.7" cy="1299.4" r="3.1"/><circle cx="745.5" cy="1305.6" r="3.1"/><circle cx="771.4" cy="1299.6" r="3.1"/><circle cx="769.4" cy="1302.1" r="3.1"/><circle cx="767.2" cy="1306.6" r="3.1"/><circle cx="793.4" cy="1300.4" r="3.1"/><circle cx="790.3" cy="1303.1" r="3.1"/><circle cx="801.1" cy="1299.4" r="3.1"/><circle cx="801.5" cy="1307.2" r="3.1"/><circle cx="729.3" cy="1310.6" r="3.1"/><circle cx="732.0" cy="1313.7" r="3.1"/><circle cx="755.2" cy="1310.9" r="3.1"/><circle cx="742.7" cy="1314.3" r="3.1"/><circle cx="744.2" cy="1319.3" r="3.1"/><circle cx="817.7" cy="1315.2" r="3.1"/><circle cx="837.2" cy="1316.8" r="3.1"/><circle cx="723.7" cy="1321.5" r="3.1"/><circle cx="727.8" cy="1324.3" r="3.1"/><circle cx="734.2" cy="1328.6" r="3.1"/><circle cx="846.6" cy="1328.6" r="3.1"/><circle cx="734.2" cy="1330.0" r="3.1"/><circle cx="752.9" cy="1331.5" r="3.1"/><circle cx="767.9" cy="1331.2" r="3.1"/><circle cx="775.3" cy="1333.1" r="3.1"/><circle cx="821.4" cy="1331.5" r="3.1"/><circle cx="846.3" cy="1330.0" r="3.1"/><circle cx="697.5" cy="1338.1" r="3.1"/><circle cx="715.6" cy="1344.3" r="3.1"/><circle cx="731.8" cy="1339.3" r="3.1"/><circle cx="734.9" cy="1338.1" r="3.1"/><circle cx="739.2" cy="1336.2" r="3.1"/><circle cx="743.0" cy="1335.0" r="3.1"/><circle cx="741.1" cy="1340.6" r="3.1"/><circle cx="757.9" cy="1337.7" r="3.1"/><circle cx="764.1" cy="1341.2" r="3.1"/><circle cx="766.6" cy="1336.8" r="3.1"/><circle cx="771.6" cy="1335.0" r="3.1"/><circle cx="778.5" cy="1338.7" r="3.1"/><circle cx="794.0" cy="1336.8" r="3.1"/><circle cx="797.8" cy="1342.5" r="3.1"/><circle cx="800.9" cy="1346.2" r="3.1"/><circle cx="790.3" cy="1346.8" r="3.1"/><circle cx="792.8" cy="1352.4" r="3.1"/><circle cx="796.5" cy="1349.9" r="3.1"/><circle cx="828.9" cy="1338.5" r="3.1"/><circle cx="865.6" cy="1346.8" r="3.1"/><circle cx="909.2" cy="1355.5" r="3.1"/><circle cx="746.7" cy="1344.3" r="3.1"/><circle cx="750.4" cy="1342.5" r="3.1"/><circle cx="752.9" cy="1347.4" r="3.1"/><circle cx="731.8" cy="1347.4" r="3.1"/><circle cx="734.2" cy="1351.8" r="3.1"/><circle cx="736.1" cy="1354.3" r="3.1"/><circle cx="741.7" cy="1349.9" r="3.1"/><circle cx="745.5" cy="1353.0" r="3.1"/><circle cx="748.6" cy="1352.4" r="3.1"/><circle cx="741.1" cy="1358.0" r="3.1"/><circle cx="706.9" cy="1356.8" r="3.1"/><circle cx="757.9" cy="1356.8" r="3.1"/><circle cx="759.8" cy="1360.5" r="3.1"/><circle cx="761.6" cy="1363.6" r="3.1"/><circle cx="765.4" cy="1369.2" r="3.1"/><circle cx="758.5" cy="1371.1" r="3.1"/><circle cx="769.1" cy="1356.2" r="3.1"/><circle cx="772.2" cy="1358.0" r="3.1"/><circle cx="775.3" cy="1354.9" r="3.1"/><circle cx="779.1" cy="1352.4" r="3.1"/><circle cx="780.9" cy="1350.5" r="3.1"/><circle cx="751.7" cy="1359.3" r="3.1"/><circle cx="753.6" cy="1363.0" r="3.1"/><circle cx="756.0" cy="1366.1" r="3.1"/><circle cx="729.3" cy="1362.6" r="3.1"/><circle cx="795.6" cy="1359.3" r="3.1"/><circle cx="781.6" cy="1363.4" r="3.1"/><circle cx="768.5" cy="1364.2" r="3.1"/><circle cx="771.6" cy="1367.4" r="3.1"/><circle cx="775.3" cy="1368.6" r="3.1"/><circle cx="779.7" cy="1367.4" r="3.1"/><circle cx="781.6" cy="1369.9" r="3.1"/><circle cx="745.5" cy="1364.9" r="3.1"/><circle cx="743.0" cy="1368.6" r="3.1"/><circle cx="740.5" cy="1371.1" r="3.1"/><circle cx="731.8" cy="1369.9" r="3.1"/><circle cx="734.9" cy="1373.0" r="3.1"/><circle cx="736.7" cy="1376.7" r="3.1"/><circle cx="695.6" cy="1368.6" r="3.1"/><circle cx="701.9" cy="1371.1" r="3.1"/><circle cx="696.9" cy="1375.1" r="3.1"/><circle cx="709.3" cy="1373.6" r="3.1"/><circle cx="726.8" cy="1373.8" r="3.1"/><circle cx="749.2" cy="1374.2" r="3.1"/><circle cx="754.2" cy="1372.3" r="3.1"/><circle cx="756.7" cy="1376.7" r="3.1"/><circle cx="804.6" cy="1371.5" r="3.1"/><circle cx="822.0" cy="1371.1" r="3.1"/><circle cx="779.1" cy="1373.6" r="3.1"/><circle cx="781.6" cy="1377.3" r="3.1"/><circle cx="717.4" cy="1378.6" r="3.1"/><circle cx="724.3" cy="1379.8" r="3.1"/><circle cx="723.7" cy="1383.5" r="3.1"/><circle cx="772.2" cy="1379.2" r="3.1"/><circle cx="776.6" cy="1382.3" r="3.1"/><circle cx="776.0" cy="1387.3" r="3.1"/><circle cx="730.5" cy="1384.2" r="3.1"/><circle cx="732.4" cy="1387.3" r="3.1"/><circle cx="740.5" cy="1382.9" r="3.1"/><circle cx="745.5" cy="1383.5" r="3.1"/><circle cx="747.3" cy="1386.7" r="3.1"/><circle cx="757.9" cy="1382.9" r="3.1"/><circle cx="758.5" cy="1386.7" r="3.1"/><circle cx="757.9" cy="1390.4" r="3.1"/><circle cx="848.2" cy="1384.8" r="3.1"/><circle cx="693.2" cy="1390.8" r="3.1"/><circle cx="696.3" cy="1391.0" r="3.1"/><circle cx="706.9" cy="1392.3" r="3.1"/><circle cx="704.4" cy="1394.1" r="3.1"/><circle cx="739.2" cy="1389.8" r="3.1"/><circle cx="744.2" cy="1391.0" r="3.1"/><circle cx="750.4" cy="1390.8" r="3.1"/><circle cx="720.5" cy="1392.3" r="3.1"/><circle cx="716.8" cy="1394.1" r="3.1"/><circle cx="713.1" cy="1396.0" r="3.1"/><circle cx="729.3" cy="1391.0" r="3.1"/><circle cx="728.0" cy="1394.8" r="3.1"/><circle cx="731.8" cy="1397.2" r="3.1"/><circle cx="766.0" cy="1391.6" r="3.1"/><circle cx="771.0" cy="1393.5" r="3.1"/><circle cx="779.1" cy="1395.6" r="3.1"/><circle cx="697.5" cy="1398.5" r="3.1"/><circle cx="700.6" cy="1401.0" r="3.1"/><circle cx="703.1" cy="1401.6" r="3.1"/><circle cx="744.8" cy="1399.1" r="3.1"/><circle cx="741.7" cy="1401.6" r="3.1"/><circle cx="737.4" cy="1402.2" r="3.1"/><circle cx="711.2" cy="1402.0" r="3.1"/><circle cx="723.0" cy="1404.1" r="3.1"/><circle cx="726.8" cy="1404.7" r="3.1"/><circle cx="730.5" cy="1403.5" r="3.1"/><circle cx="736.1" cy="1404.7" r="3.1"/><circle cx="734.2" cy="1407.8" r="3.1"/><circle cx="763.5" cy="1404.1" r="3.1"/><circle cx="771.6" cy="1400.4" r="3.1"/><circle cx="781.6" cy="1403.5" r="3.1"/><circle cx="698.1" cy="1406.0" r="3.1"/><circle cx="700.0" cy="1409.1" r="3.1"/><circle cx="714.3" cy="1409.7" r="3.1"/><circle cx="720.5" cy="1411.6" r="3.1"/><circle cx="741.1" cy="1410.3" r="3.1"/><circle cx="751.1" cy="1409.7" r="3.1"/><circle cx="728.0" cy="1413.4" r="3.1"/><circle cx="734.9" cy="1414.1" r="3.1"/><circle cx="694.4" cy="1415.3" r="3.1"/><circle cx="697.5" cy="1417.2" r="3.1"/><circle cx="697.5" cy="1422.8" r="3.1"/><circle cx="711.8" cy="1417.2" r="3.1"/><circle cx="690.0" cy="1428.4" r="3.1"/><circle cx="718.7" cy="1427.8" r="3.1"/><circle cx="727.6" cy="1428.8" r="3.1"/><circle cx="741.1" cy="1428.4" r="3.1"/><circle cx="765.4" cy="1426.8" r="3.1"/><circle cx="693.8" cy="1447.7" r="3.1"/></g>
<rect x="668.0" y="1196.4" width="262.4" height="278.7" fill="none" stroke="#000" stroke-width="2.4"/>
<text x="706.4" y="1509.0" font-size="23.5" text-anchor="middle">-1</text>
<text x="793.9" y="1509.0" font-size="23.5" text-anchor="middle">1</text>
<text x="881.7" y="1509.0" font-size="23.5" text-anchor="middle">3</text>
<text x="771.80" y="1443.70" font-size="22" textLength="84.54" lengthAdjust="spacingAndGlyphs">ρ = 0.49</text>
<text x="769.99" y="1466.50" font-size="22" textLength="123.62" lengthAdjust="spacingAndGlyphs">P &lt; 2.2 x 10</text>
<text x="894.08" y="1453.00" font-size="12.3" textLength="19.91" lengthAdjust="spacingAndGlyphs">-16</text>
<g>
<text x="747.39" y="1553.50" font-size="44.5" textLength="27.39" lengthAdjust="spacingAndGlyphs">T</text>
<text x="781.34" y="1553.50" font-size="44.5" textLength="65.64" lengthAdjust="spacingAndGlyphs">cell</text>
</g>
<path d="M982.0,1191.0V1196.0M982.0,1474.6V1479.6M1021.7,1191.0V1196.0M1021.7,1474.6V1479.6M1061.7,1191.0V1196.0M1061.7,1474.6V1479.6M1101.4,1191.0V1196.0M1101.4,1474.6V1479.6M1141.4,1191.0V1196.0M1141.4,1474.6V1479.6M1181.1,1191.0V1196.0M1181.1,1474.6V1479.6M1221.1,1191.0V1196.0M1221.1,1474.6V1479.6M976.1,1208.5H981.1M1244.0,1208.5H1249.0M976.1,1253.4H981.1M1244.0,1253.4H1249.0M976.1,1298.3H981.1M1244.0,1298.3H1249.0M976.1,1343.3H981.1M1244.0,1343.3H1249.0M976.1,1388.2H981.1M1244.0,1388.2H1249.0M976.1,1433.1H981.1M1244.0,1433.1H1249.0" stroke="#000" stroke-width="2.2" fill="none"/>
<g fill="#000"><circle cx="1138.6" cy="1218.4" r="3.1"/><circle cx="1166.7" cy="1238.1" r="3.1"/><circle cx="1178.9" cy="1245.8" r="3.1"/><circle cx="1084.3" cy="1251.2" r="3.1"/><circle cx="1094.0" cy="1251.2" r="3.1"/><circle cx="1122.8" cy="1259.3" r="3.1"/><circle cx="1157.4" cy="1267.7" r="3.1"/><circle cx="1162.4" cy="1270.7" r="3.1"/><circle cx="1224.0" cy="1265.0" r="3.1"/><circle cx="1097.9" cy="1279.3" r="3.1"/><circle cx="1206.3" cy="1281.6" r="3.1"/><circle cx="1096.8" cy="1289.5" r="3.1"/><circle cx="1090.2" cy="1291.9" r="3.1"/><circle cx="1094.0" cy="1297.2" r="3.1"/><circle cx="1135.0" cy="1291.3" r="3.1"/><circle cx="1113.8" cy="1297.6" r="3.1"/><circle cx="1119.8" cy="1300.8" r="3.1"/><circle cx="1127.8" cy="1296.3" r="3.1"/><circle cx="1146.3" cy="1298.5" r="3.1"/><circle cx="1177.1" cy="1303.9" r="3.1"/><circle cx="1126.9" cy="1304.4" r="3.1"/><circle cx="1123.9" cy="1308.5" r="3.1"/><circle cx="1121.6" cy="1312.5" r="3.1"/><circle cx="1122.8" cy="1317.1" r="3.1"/><circle cx="1076.8" cy="1306.6" r="3.1"/><circle cx="1071.9" cy="1310.3" r="3.1"/><circle cx="1201.3" cy="1312.8" r="3.1"/><circle cx="1100.9" cy="1313.4" r="3.1"/><circle cx="1107.6" cy="1314.3" r="3.1"/><circle cx="1112.1" cy="1310.1" r="3.1"/><circle cx="1110.8" cy="1318.6" r="3.1"/><circle cx="1117.4" cy="1320.5" r="3.1"/><circle cx="1090.7" cy="1317.8" r="3.1"/><circle cx="1085.4" cy="1321.1" r="3.1"/><circle cx="1101.8" cy="1326.3" r="3.1"/><circle cx="1096.8" cy="1329.5" r="3.1"/><circle cx="1095.0" cy="1332.2" r="3.1"/><circle cx="1084.8" cy="1330.4" r="3.1"/><circle cx="1079.1" cy="1334.9" r="3.1"/><circle cx="1102.4" cy="1334.5" r="3.1"/><circle cx="1118.3" cy="1333.1" r="3.1"/><circle cx="1141.8" cy="1330.7" r="3.1"/><circle cx="1138.0" cy="1335.4" r="3.1"/><circle cx="1109.4" cy="1335.4" r="3.1"/><circle cx="1108.7" cy="1339.3" r="3.1"/><circle cx="1111.7" cy="1341.1" r="3.1"/><circle cx="1117.1" cy="1339.3" r="3.1"/><circle cx="1113.0" cy="1344.0" r="3.1"/><circle cx="1084.8" cy="1340.2" r="3.1"/><circle cx="1092.5" cy="1341.1" r="3.1"/><circle cx="1097.4" cy="1342.0" r="3.1"/><circle cx="1085.7" cy="1346.5" r="3.1"/><circle cx="1137.1" cy="1346.9" r="3.1"/><circle cx="1141.3" cy="1348.3" r="3.1"/><circle cx="1124.2" cy="1348.3" r="3.1"/><circle cx="1065.6" cy="1349.7" r="3.1"/><circle cx="1073.2" cy="1349.7" r="3.1"/><circle cx="1084.8" cy="1350.5" r="3.1"/><circle cx="1091.4" cy="1349.7" r="3.1"/><circle cx="1093.2" cy="1353.7" r="3.1"/><circle cx="1094.7" cy="1357.3" r="3.1"/><circle cx="1078.2" cy="1353.3" r="3.1"/><circle cx="1075.9" cy="1355.5" r="3.1"/><circle cx="1072.3" cy="1358.2" r="3.1"/><circle cx="1071.4" cy="1359.1" r="3.1"/><circle cx="1102.7" cy="1351.0" r="3.1"/><circle cx="1105.8" cy="1351.5" r="3.1"/><circle cx="1101.3" cy="1359.1" r="3.1"/><circle cx="1106.9" cy="1357.8" r="3.1"/><circle cx="1104.5" cy="1360.5" r="3.1"/><circle cx="1175.3" cy="1353.1" r="3.1"/><circle cx="1132.3" cy="1359.4" r="3.1"/><circle cx="1141.3" cy="1360.8" r="3.1"/><circle cx="1088.0" cy="1361.7" r="3.1"/><circle cx="1111.7" cy="1362.3" r="3.1"/><circle cx="1085.2" cy="1368.0" r="3.1"/><circle cx="1109.0" cy="1368.5" r="3.1"/><circle cx="1117.6" cy="1369.4" r="3.1"/><circle cx="1122.8" cy="1370.3" r="3.1"/><circle cx="1129.4" cy="1371.1" r="3.1"/><circle cx="1059.2" cy="1369.8" r="3.1"/><circle cx="1066.5" cy="1369.3" r="3.1"/><circle cx="1066.5" cy="1373.0" r="3.1"/><circle cx="1097.4" cy="1373.7" r="3.1"/><circle cx="1103.6" cy="1374.6" r="3.1"/><circle cx="1108.5" cy="1374.6" r="3.1"/><circle cx="1090.2" cy="1375.2" r="3.1"/><circle cx="1088.4" cy="1377.0" r="3.1"/><circle cx="1092.9" cy="1379.7" r="3.1"/><circle cx="1085.7" cy="1381.1" r="3.1"/><circle cx="1097.9" cy="1383.2" r="3.1"/><circle cx="1102.7" cy="1382.7" r="3.1"/><circle cx="1033.2" cy="1380.6" r="3.1"/><circle cx="1053.1" cy="1385.4" r="3.1"/><circle cx="1032.0" cy="1395.8" r="3.1"/><circle cx="1087.1" cy="1395.2" r="3.1"/><circle cx="1089.7" cy="1396.1" r="3.1"/><circle cx="1080.7" cy="1398.5" r="3.1"/><circle cx="1066.0" cy="1399.9" r="3.1"/><circle cx="1064.2" cy="1404.7" r="3.1"/><circle cx="1071.4" cy="1406.5" r="3.1"/><circle cx="1040.9" cy="1409.2" r="3.1"/><circle cx="1051.7" cy="1409.2" r="3.1"/><circle cx="1053.8" cy="1408.0" r="3.1"/><circle cx="1055.3" cy="1407.4" r="3.1"/><circle cx="1034.1" cy="1417.3" r="3.1"/><circle cx="1080.0" cy="1415.0" r="3.1"/><circle cx="1080.0" cy="1417.6" r="3.1"/><circle cx="1094.0" cy="1419.6" r="3.1"/><circle cx="1060.1" cy="1427.5" r="3.1"/><circle cx="1001.0" cy="1452.6" r="3.1"/></g>
<rect x="981.1" y="1196.0" width="262.9" height="278.6" fill="none" stroke="#000" stroke-width="2.4"/>
<text x="1019.7" y="1509.0" font-size="23.5" text-anchor="middle">-2</text>
<text x="1103.7" y="1509.0" font-size="23.5" text-anchor="middle">0</text>
<text x="1180.5" y="1509.0" font-size="23.5" text-anchor="middle">2</text>
<text x="969.0" y="1261.0" font-size="21.5" text-anchor="end">1</text>
<text x="969.0" y="1350.9" font-size="21.5" text-anchor="end">0</text>
<text x="969.0" y="1440.7" font-size="21.5" text-anchor="end">-1</text>
<text x="1104.09" y="1164.80" font-size="44.5" textLength="286.05" lengthAdjust="spacingAndGlyphs">Changhai 2020</text>
<text x="1089.89" y="1447.40" font-size="22" textLength="84.66" lengthAdjust="spacingAndGlyphs">ρ = 0.57</text>
<text x="1088.48" y="1469.60" font-size="22" textLength="124.23" lengthAdjust="spacingAndGlyphs">P &lt; 2.2 x 10</text>
<text x="1213.26" y="1456.10" font-size="12.3" textLength="20.55" lengthAdjust="spacingAndGlyphs">-16</text>
<text x="990.86" y="1553.50" font-size="44.5" textLength="245.19" lengthAdjust="spacingAndGlyphs">Macrophage</text>
<path d="M1284.8,1191.0V1196.0M1284.8,1474.6V1479.6M1329.2,1191.0V1196.0M1329.2,1474.6V1479.6M1373.2,1191.0V1196.0M1373.2,1474.6V1479.6M1417.5,1191.0V1196.0M1417.5,1474.6V1479.6M1461.6,1191.0V1196.0M1461.6,1474.6V1479.6M1505.9,1191.0V1196.0M1505.9,1474.6V1479.6M1249.3,1208.5H1254.3M1518.1,1208.5H1523.1M1249.3,1253.4H1254.3M1518.1,1253.4H1523.1M1249.3,1298.3H1254.3M1518.1,1298.3H1523.1M1249.3,1343.3H1254.3M1518.1,1343.3H1523.1M1249.3,1388.2H1254.3M1518.1,1388.2H1523.1M1249.3,1433.1H1254.3M1518.1,1433.1H1523.1" stroke="#000" stroke-width="2.2" fill="none"/>
<g fill="#000"><circle cx="1431.3" cy="1217.5" r="3.1"/><circle cx="1440.6" cy="1237.6" r="3.1"/><circle cx="1425.9" cy="1245.3" r="3.1"/><circle cx="1353.3" cy="1251.0" r="3.1"/><circle cx="1365.0" cy="1250.6" r="3.1"/><circle cx="1388.6" cy="1259.1" r="3.1"/><circle cx="1412.5" cy="1267.3" r="3.1"/><circle cx="1496.7" cy="1264.6" r="3.1"/><circle cx="1460.3" cy="1270.0" r="3.1"/><circle cx="1381.1" cy="1279.0" r="3.1"/><circle cx="1455.8" cy="1281.1" r="3.1"/><circle cx="1340.4" cy="1291.5" r="3.1"/><circle cx="1353.0" cy="1289.2" r="3.1"/><circle cx="1445.6" cy="1291.0" r="3.1"/><circle cx="1371.3" cy="1296.7" r="3.1"/><circle cx="1379.9" cy="1297.8" r="3.1"/><circle cx="1382.4" cy="1297.2" r="3.1"/><circle cx="1419.6" cy="1295.8" r="3.1"/><circle cx="1347.4" cy="1300.6" r="3.1"/><circle cx="1358.2" cy="1306.0" r="3.1"/><circle cx="1400.3" cy="1303.9" r="3.1"/><circle cx="1478.8" cy="1303.5" r="3.1"/><circle cx="1438.8" cy="1308.3" r="3.1"/><circle cx="1341.3" cy="1310.1" r="3.1"/><circle cx="1370.4" cy="1309.8" r="3.1"/><circle cx="1372.7" cy="1312.8" r="3.1"/><circle cx="1376.6" cy="1313.7" r="3.1"/><circle cx="1379.9" cy="1317.8" r="3.1"/><circle cx="1408.0" cy="1312.5" r="3.1"/><circle cx="1470.3" cy="1312.6" r="3.1"/><circle cx="1347.1" cy="1317.5" r="3.1"/><circle cx="1389.5" cy="1319.1" r="3.1"/><circle cx="1397.2" cy="1316.4" r="3.1"/><circle cx="1407.1" cy="1320.2" r="3.1"/><circle cx="1320.7" cy="1320.9" r="3.1"/><circle cx="1349.4" cy="1326.1" r="3.1"/><circle cx="1449.6" cy="1330.4" r="3.1"/><circle cx="1367.3" cy="1331.8" r="3.1"/><circle cx="1371.3" cy="1333.4" r="3.1"/><circle cx="1376.6" cy="1329.1" r="3.1"/><circle cx="1373.9" cy="1334.0" r="3.1"/><circle cx="1380.8" cy="1334.9" r="3.1"/><circle cx="1426.8" cy="1333.1" r="3.1"/><circle cx="1415.2" cy="1335.2" r="3.1"/><circle cx="1350.7" cy="1337.0" r="3.1"/><circle cx="1374.8" cy="1339.3" r="3.1"/><circle cx="1396.3" cy="1334.9" r="3.1"/><circle cx="1393.7" cy="1336.7" r="3.1"/><circle cx="1391.0" cy="1339.3" r="3.1"/><circle cx="1385.6" cy="1340.8" r="3.1"/><circle cx="1337.2" cy="1339.9" r="3.1"/><circle cx="1345.3" cy="1340.8" r="3.1"/><circle cx="1356.9" cy="1339.9" r="3.1"/><circle cx="1358.7" cy="1342.0" r="3.1"/><circle cx="1391.0" cy="1343.8" r="3.1"/><circle cx="1380.2" cy="1346.5" r="3.1"/><circle cx="1396.9" cy="1346.5" r="3.1"/><circle cx="1435.8" cy="1347.8" r="3.1"/><circle cx="1440.2" cy="1347.8" r="3.1"/><circle cx="1438.5" cy="1352.8" r="3.1"/><circle cx="1439.3" cy="1359.1" r="3.1"/><circle cx="1320.6" cy="1349.7" r="3.1"/><circle cx="1331.3" cy="1349.2" r="3.1"/><circle cx="1337.2" cy="1351.9" r="3.1"/><circle cx="1342.6" cy="1354.0" r="3.1"/><circle cx="1347.6" cy="1353.7" r="3.1"/><circle cx="1344.0" cy="1358.2" r="3.1"/><circle cx="1365.9" cy="1351.9" r="3.1"/><circle cx="1368.6" cy="1350.5" r="3.1"/><circle cx="1372.7" cy="1349.7" r="3.1"/><circle cx="1364.1" cy="1353.7" r="3.1"/><circle cx="1390.1" cy="1351.0" r="3.1"/><circle cx="1404.4" cy="1351.0" r="3.1"/><circle cx="1413.0" cy="1351.0" r="3.1"/><circle cx="1356.0" cy="1356.0" r="3.1"/><circle cx="1367.7" cy="1355.5" r="3.1"/><circle cx="1370.4" cy="1360.5" r="3.1"/><circle cx="1380.2" cy="1357.3" r="3.1"/><circle cx="1381.7" cy="1356.4" r="3.1"/><circle cx="1362.7" cy="1359.1" r="3.1"/><circle cx="1360.5" cy="1362.3" r="3.1"/><circle cx="1328.6" cy="1361.7" r="3.1"/><circle cx="1422.0" cy="1359.9" r="3.1"/><circle cx="1323.8" cy="1367.7" r="3.1"/><circle cx="1336.3" cy="1369.3" r="3.1"/><circle cx="1340.3" cy="1372.5" r="3.1"/><circle cx="1353.3" cy="1369.8" r="3.1"/><circle cx="1379.3" cy="1368.5" r="3.1"/><circle cx="1376.6" cy="1371.1" r="3.1"/><circle cx="1394.6" cy="1369.8" r="3.1"/><circle cx="1348.0" cy="1373.7" r="3.1"/><circle cx="1354.2" cy="1376.1" r="3.1"/><circle cx="1359.6" cy="1375.2" r="3.1"/><circle cx="1369.5" cy="1375.2" r="3.1"/><circle cx="1434.3" cy="1374.6" r="3.1"/><circle cx="1313.0" cy="1380.2" r="3.1"/><circle cx="1365.0" cy="1380.0" r="3.1"/><circle cx="1361.4" cy="1382.9" r="3.1"/><circle cx="1377.9" cy="1380.6" r="3.1"/><circle cx="1403.2" cy="1382.3" r="3.1"/><circle cx="1333.6" cy="1385.0" r="3.1"/><circle cx="1310.3" cy="1394.9" r="3.1"/><circle cx="1313.9" cy="1399.7" r="3.1"/><circle cx="1336.7" cy="1394.9" r="3.1"/><circle cx="1340.8" cy="1398.1" r="3.1"/><circle cx="1372.7" cy="1396.1" r="3.1"/><circle cx="1319.3" cy="1404.7" r="3.1"/><circle cx="1315.7" cy="1407.4" r="3.1"/><circle cx="1313.4" cy="1409.2" r="3.1"/><circle cx="1299.9" cy="1409.2" r="3.1"/><circle cx="1341.2" cy="1406.5" r="3.1"/><circle cx="1321.4" cy="1415.0" r="3.1"/><circle cx="1303.2" cy="1417.3" r="3.1"/><circle cx="1308.5" cy="1417.3" r="3.1"/><circle cx="1334.9" cy="1419.6" r="3.1"/><circle cx="1324.1" cy="1427.1" r="3.1"/><circle cx="1276.8" cy="1452.6" r="3.1"/></g>
<rect x="1254.3" y="1196.0" width="263.8" height="278.6" fill="none" stroke="#000" stroke-width="2.4"/>
<text x="1287.7" y="1509.0" font-size="23.5" text-anchor="middle">-2</text>
<text x="1373.8" y="1509.0" font-size="23.5" text-anchor="middle">0</text>
<text x="1461.6" y="1509.0" font-size="23.5" text-anchor="middle">2</text>
<text x="1352.10" y="1447.40" font-size="22" textLength="84.17" lengthAdjust="spacingAndGlyphs">ρ = 0.53</text>
<text x="1350.40" y="1469.60" font-size="22" textLength="136.28" lengthAdjust="spacingAndGlyphs">P = 3.62 x 10</text>
<text x="1486.18" y="1456.10" font-size="12.3" textLength="19.84" lengthAdjust="spacingAndGlyphs">-10</text>
<g>
<text x="1331.58" y="1553.50" font-size="44.5" textLength="27.82" lengthAdjust="spacingAndGlyphs">T</text>
<text x="1366.06" y="1553.50" font-size="44.5" textLength="66.67" lengthAdjust="spacingAndGlyphs">cell</text>
</g>
<path d="M1587.1,1191.4V1196.4M1587.1,1478.0V1483.0M1625.0,1191.4V1196.4M1625.0,1478.0V1483.0M1663.3,1191.4V1196.4M1663.3,1478.0V1483.0M1701.5,1191.4V1196.4M1701.5,1478.0V1483.0M1739.5,1191.4V1196.4M1739.5,1478.0V1483.0M1777.8,1191.4V1196.4M1777.8,1478.0V1483.0M1816.0,1191.4V1196.4M1816.0,1478.0V1483.0M1560.6,1209.4H1565.6M1829.6,1209.4H1834.6M1560.6,1252.0H1565.6M1829.6,1252.0H1834.6M1560.6,1294.6H1565.6M1829.6,1294.6H1834.6M1560.6,1337.5H1565.6M1829.6,1337.5H1834.6M1560.6,1380.4H1565.6M1829.6,1380.4H1834.6M1560.6,1423.5H1565.6M1829.6,1423.5H1834.6M1560.6,1466.4H1565.6M1829.6,1466.4H1834.6" stroke="#000" stroke-width="2.2" fill="none"/>
<g fill="#000"><circle cx="1736.5" cy="1218.8" r="3.1"/><circle cx="1761.2" cy="1243.5" r="3.1"/><circle cx="1695.3" cy="1255.5" r="3.1"/><circle cx="1772.0" cy="1254.6" r="3.1"/><circle cx="1685.9" cy="1260.9" r="3.1"/><circle cx="1752.8" cy="1261.4" r="3.1"/><circle cx="1811.0" cy="1260.1" r="3.1"/><circle cx="1721.4" cy="1267.7" r="3.1"/><circle cx="1757.6" cy="1269.1" r="3.1"/><circle cx="1795.8" cy="1270.0" r="3.1"/><circle cx="1732.2" cy="1284.2" r="3.1"/><circle cx="1698.5" cy="1285.1" r="3.1"/><circle cx="1690.8" cy="1289.2" r="3.1"/><circle cx="1695.3" cy="1291.9" r="3.1"/><circle cx="1697.6" cy="1296.9" r="3.1"/><circle cx="1742.9" cy="1294.0" r="3.1"/><circle cx="1713.4" cy="1294.9" r="3.1"/><circle cx="1713.7" cy="1297.2" r="3.1"/><circle cx="1770.5" cy="1297.8" r="3.1"/><circle cx="1725.7" cy="1299.0" r="3.1"/><circle cx="1723.0" cy="1301.7" r="3.1"/><circle cx="1673.9" cy="1304.9" r="3.1"/><circle cx="1678.2" cy="1303.9" r="3.1"/><circle cx="1791.7" cy="1307.4" r="3.1"/><circle cx="1708.0" cy="1306.2" r="3.1"/><circle cx="1711.9" cy="1308.0" r="3.1"/><circle cx="1709.8" cy="1309.8" r="3.1"/><circle cx="1719.1" cy="1308.0" r="3.1"/><circle cx="1722.1" cy="1310.1" r="3.1"/><circle cx="1720.0" cy="1314.3" r="3.1"/><circle cx="1716.4" cy="1314.6" r="3.1"/><circle cx="1702.1" cy="1312.5" r="3.1"/><circle cx="1705.7" cy="1313.4" r="3.1"/><circle cx="1685.9" cy="1318.7" r="3.1"/><circle cx="1691.7" cy="1317.8" r="3.1"/><circle cx="1686.3" cy="1320.9" r="3.1"/><circle cx="1739.2" cy="1320.2" r="3.1"/><circle cx="1717.3" cy="1319.6" r="3.1"/><circle cx="1718.6" cy="1324.5" r="3.1"/><circle cx="1702.1" cy="1322.3" r="3.1"/><circle cx="1696.7" cy="1325.0" r="3.1"/><circle cx="1698.5" cy="1327.7" r="3.1"/><circle cx="1697.6" cy="1330.7" r="3.1"/><circle cx="1703.0" cy="1330.0" r="3.1"/><circle cx="1680.6" cy="1330.0" r="3.1"/><circle cx="1736.1" cy="1330.7" r="3.1"/><circle cx="1686.8" cy="1333.6" r="3.1"/><circle cx="1687.2" cy="1337.6" r="3.1"/><circle cx="1708.9" cy="1333.1" r="3.1"/><circle cx="1711.4" cy="1330.9" r="3.1"/><circle cx="1713.7" cy="1333.6" r="3.1"/><circle cx="1716.8" cy="1333.6" r="3.1"/><circle cx="1708.3" cy="1334.9" r="3.1"/><circle cx="1723.9" cy="1335.8" r="3.1"/><circle cx="1693.5" cy="1338.4" r="3.1"/><circle cx="1693.5" cy="1340.8" r="3.1"/><circle cx="1695.3" cy="1343.8" r="3.1"/><circle cx="1735.2" cy="1339.3" r="3.1"/><circle cx="1739.2" cy="1340.8" r="3.1"/><circle cx="1768.4" cy="1341.1" r="3.1"/><circle cx="1702.4" cy="1342.0" r="3.1"/><circle cx="1705.7" cy="1344.4" r="3.1"/><circle cx="1701.5" cy="1345.6" r="3.1"/><circle cx="1668.0" cy="1347.0" r="3.1"/><circle cx="1674.3" cy="1346.5" r="3.1"/><circle cx="1678.8" cy="1344.7" r="3.1"/><circle cx="1673.4" cy="1348.3" r="3.1"/><circle cx="1677.0" cy="1350.5" r="3.1"/><circle cx="1685.4" cy="1342.0" r="3.1"/><circle cx="1683.3" cy="1344.7" r="3.1"/><circle cx="1695.8" cy="1347.9" r="3.1"/><circle cx="1701.2" cy="1349.2" r="3.1"/><circle cx="1730.7" cy="1350.1" r="3.1"/><circle cx="1689.9" cy="1352.4" r="3.1"/><circle cx="1711.6" cy="1352.8" r="3.1"/><circle cx="1705.7" cy="1355.5" r="3.1"/><circle cx="1708.3" cy="1358.2" r="3.1"/><circle cx="1708.3" cy="1361.7" r="3.1"/><circle cx="1716.9" cy="1358.7" r="3.1"/><circle cx="1722.1" cy="1357.6" r="3.1"/><circle cx="1727.5" cy="1360.8" r="3.1"/><circle cx="1737.9" cy="1356.4" r="3.1"/><circle cx="1685.9" cy="1357.8" r="3.1"/><circle cx="1660.0" cy="1360.5" r="3.1"/><circle cx="1668.0" cy="1361.7" r="3.1"/><circle cx="1698.0" cy="1362.3" r="3.1"/><circle cx="1692.6" cy="1365.3" r="3.1"/><circle cx="1688.6" cy="1369.4" r="3.1"/><circle cx="1686.8" cy="1369.8" r="3.1"/><circle cx="1692.2" cy="1371.6" r="3.1"/><circle cx="1698.5" cy="1373.9" r="3.1"/><circle cx="1703.9" cy="1372.5" r="3.1"/><circle cx="1704.2" cy="1375.2" r="3.1"/><circle cx="1633.1" cy="1372.5" r="3.1"/><circle cx="1654.2" cy="1376.6" r="3.1"/><circle cx="1631.7" cy="1387.2" r="3.1"/><circle cx="1688.3" cy="1386.3" r="3.1"/><circle cx="1690.4" cy="1388.6" r="3.1"/><circle cx="1681.5" cy="1391.7" r="3.1"/><circle cx="1668.0" cy="1394.0" r="3.1"/><circle cx="1666.6" cy="1398.8" r="3.1"/><circle cx="1673.0" cy="1399.4" r="3.1"/><circle cx="1640.8" cy="1403.0" r="3.1"/><circle cx="1653.7" cy="1402.4" r="3.1"/><circle cx="1656.0" cy="1404.2" r="3.1"/><circle cx="1681.5" cy="1411.9" r="3.1"/><circle cx="1632.6" cy="1414.2" r="3.1"/><circle cx="1695.3" cy="1417.8" r="3.1"/><circle cx="1661.2" cy="1421.4" r="3.1"/><circle cx="1585.6" cy="1455.5" r="3.1"/></g>
<rect x="1565.6" y="1196.4" width="264.0" height="281.6" fill="none" stroke="#000" stroke-width="2.4"/>
<text x="1625.0" y="1509.0" font-size="23.5" text-anchor="middle">-2</text>
<text x="1701.5" y="1509.0" font-size="23.5" text-anchor="middle">0</text>
<text x="1778.3" y="1509.0" font-size="23.5" text-anchor="middle">2</text>
<text x="1559.0" y="1259.6" font-size="21.5" text-anchor="end">1</text>
<text x="1559.0" y="1345.1" font-size="21.5" text-anchor="end">0</text>
<text x="1559.0" y="1431.1" font-size="21.5" text-anchor="end">-1</text>
<text x="1672.81" y="1162.20" font-size="44.5" textLength="343.82" lengthAdjust="spacingAndGlyphs">Glinsky et al. 2004</text>
<text x="1684.90" y="1445.80" font-size="22" textLength="84.07" lengthAdjust="spacingAndGlyphs">ρ = 0.58</text>
<text x="1683.50" y="1469.00" font-size="22" textLength="123.21" lengthAdjust="spacingAndGlyphs">P &lt; 2.2 x 10</text>
<text x="1805.20" y="1455.10" font-size="12.3" textLength="19.38" lengthAdjust="spacingAndGlyphs">-16</text>
<text x="1572.77" y="1553.50" font-size="44.5" textLength="244.57" lengthAdjust="spacingAndGlyphs">Macrophage</text>
<path d="M1874.2,1191.4V1196.4M1874.2,1478.0V1483.0M1914.8,1191.4V1196.4M1914.8,1478.0V1483.0M1956.0,1191.4V1196.4M1956.0,1478.0V1483.0M1996.5,1191.4V1196.4M1996.5,1478.0V1483.0M2038.0,1191.4V1196.4M2038.0,1478.0V1483.0M2078.5,1191.4V1196.4M2078.5,1478.0V1483.0M1846.0,1209.4H1851.0M2114.8,1209.4H2119.8M1846.0,1252.0H1851.0M2114.8,1252.0H2119.8M1846.0,1294.6H1851.0M2114.8,1294.6H2119.8M1846.0,1337.5H1851.0M2114.8,1337.5H2119.8M1846.0,1380.4H1851.0M2114.8,1380.4H2119.8M1846.0,1423.5H1851.0M2114.8,1423.5H2119.8M1846.0,1466.4H1851.0M2114.8,1466.4H2119.8" stroke="#000" stroke-width="2.2" fill="none"/>
<g fill="#000"><circle cx="2046.6" cy="1218.8" r="3.1"/><circle cx="2054.6" cy="1243.5" r="3.1"/><circle cx="1979.5" cy="1255.5" r="3.1"/><circle cx="2042.6" cy="1254.6" r="3.1"/><circle cx="1993.0" cy="1260.9" r="3.1"/><circle cx="2029.7" cy="1261.4" r="3.1"/><circle cx="2094.6" cy="1260.1" r="3.1"/><circle cx="2014.3" cy="1267.7" r="3.1"/><circle cx="2065.9" cy="1270.0" r="3.1"/><circle cx="2068.2" cy="1269.1" r="3.1"/><circle cx="2007.7" cy="1285.1" r="3.1"/><circle cx="2058.7" cy="1284.2" r="3.1"/><circle cx="1968.3" cy="1289.2" r="3.1"/><circle cx="1997.3" cy="1291.3" r="3.1"/><circle cx="2000.5" cy="1294.2" r="3.1"/><circle cx="2006.4" cy="1293.7" r="3.1"/><circle cx="2008.6" cy="1297.8" r="3.1"/><circle cx="1981.3" cy="1296.9" r="3.1"/><circle cx="2023.8" cy="1299.0" r="3.1"/><circle cx="2038.7" cy="1299.0" r="3.1"/><circle cx="2079.3" cy="1298.1" r="3.1"/><circle cx="2053.0" cy="1302.1" r="3.1"/><circle cx="1987.1" cy="1304.0" r="3.1"/><circle cx="1969.7" cy="1305.3" r="3.1"/><circle cx="1975.4" cy="1308.0" r="3.1"/><circle cx="1998.7" cy="1307.1" r="3.1"/><circle cx="2004.1" cy="1306.2" r="3.1"/><circle cx="2000.5" cy="1310.7" r="3.1"/><circle cx="2006.8" cy="1309.8" r="3.1"/><circle cx="2005.0" cy="1313.4" r="3.1"/><circle cx="2075.4" cy="1307.4" r="3.1"/><circle cx="2021.5" cy="1310.1" r="3.1"/><circle cx="2029.7" cy="1314.3" r="3.1"/><circle cx="2014.8" cy="1316.9" r="3.1"/><circle cx="1945.3" cy="1318.4" r="3.1"/><circle cx="1976.0" cy="1319.6" r="3.1"/><circle cx="1978.7" cy="1322.3" r="3.1"/><circle cx="1996.9" cy="1320.2" r="3.1"/><circle cx="2002.3" cy="1320.9" r="3.1"/><circle cx="2061.4" cy="1320.5" r="3.1"/><circle cx="2043.0" cy="1324.7" r="3.1"/><circle cx="1996.0" cy="1326.3" r="3.1"/><circle cx="2004.1" cy="1325.0" r="3.1"/><circle cx="2001.0" cy="1329.5" r="3.1"/><circle cx="1979.0" cy="1330.7" r="3.1"/><circle cx="1985.6" cy="1331.3" r="3.1"/><circle cx="1986.2" cy="1334.9" r="3.1"/><circle cx="1965.2" cy="1333.4" r="3.1"/><circle cx="1972.7" cy="1333.6" r="3.1"/><circle cx="2007.3" cy="1330.7" r="3.1"/><circle cx="2002.3" cy="1333.1" r="3.1"/><circle cx="2017.0" cy="1331.6" r="3.1"/><circle cx="2021.1" cy="1330.7" r="3.1"/><circle cx="2018.4" cy="1334.0" r="3.1"/><circle cx="2021.1" cy="1335.8" r="3.1"/><circle cx="2036.3" cy="1330.7" r="3.1"/><circle cx="2051.6" cy="1335.8" r="3.1"/><circle cx="2054.3" cy="1340.8" r="3.1"/><circle cx="1958.4" cy="1339.3" r="3.1"/><circle cx="1999.3" cy="1338.8" r="3.1"/><circle cx="2007.3" cy="1339.3" r="3.1"/><circle cx="2011.3" cy="1340.2" r="3.1"/><circle cx="2015.2" cy="1342.6" r="3.1"/><circle cx="2034.0" cy="1341.1" r="3.1"/><circle cx="1964.7" cy="1344.2" r="3.1"/><circle cx="1971.8" cy="1344.7" r="3.1"/><circle cx="1976.0" cy="1343.5" r="3.1"/><circle cx="1973.3" cy="1347.9" r="3.1"/><circle cx="1995.1" cy="1344.2" r="3.1"/><circle cx="1992.4" cy="1346.5" r="3.1"/><circle cx="2001.4" cy="1344.2" r="3.1"/><circle cx="2027.4" cy="1344.2" r="3.1"/><circle cx="1947.7" cy="1346.9" r="3.1"/><circle cx="2007.3" cy="1347.9" r="3.1"/><circle cx="1985.3" cy="1350.5" r="3.1"/><circle cx="1988.9" cy="1352.8" r="3.1"/><circle cx="1991.9" cy="1350.1" r="3.1"/><circle cx="2054.8" cy="1350.5" r="3.1"/><circle cx="1954.5" cy="1352.4" r="3.1"/><circle cx="1950.7" cy="1357.8" r="3.1"/><circle cx="1998.2" cy="1356.4" r="3.1"/><circle cx="2019.3" cy="1357.3" r="3.1"/><circle cx="2019.3" cy="1359.1" r="3.1"/><circle cx="2041.2" cy="1356.0" r="3.1"/><circle cx="2007.3" cy="1358.5" r="3.1"/><circle cx="2004.1" cy="1360.8" r="3.1"/><circle cx="1963.2" cy="1362.1" r="3.1"/><circle cx="1968.6" cy="1361.7" r="3.1"/><circle cx="1975.4" cy="1362.6" r="3.1"/><circle cx="1982.6" cy="1360.5" r="3.1"/><circle cx="1988.9" cy="1365.7" r="3.1"/><circle cx="1996.6" cy="1365.3" r="3.1"/><circle cx="2049.2" cy="1363.0" r="3.1"/><circle cx="1983.5" cy="1368.9" r="3.1"/><circle cx="2004.6" cy="1370.2" r="3.1"/><circle cx="1938.3" cy="1372.5" r="3.1"/><circle cx="1990.7" cy="1373.7" r="3.1"/><circle cx="1993.3" cy="1372.5" r="3.1"/><circle cx="1997.3" cy="1372.9" r="3.1"/><circle cx="2026.1" cy="1375.2" r="3.1"/><circle cx="1962.5" cy="1377.3" r="3.1"/><circle cx="1934.8" cy="1387.4" r="3.1"/><circle cx="1966.5" cy="1386.5" r="3.1"/><circle cx="1966.5" cy="1389.2" r="3.1"/><circle cx="1967.4" cy="1392.2" r="3.1"/><circle cx="2001.0" cy="1388.6" r="3.1"/><circle cx="1933.0" cy="1394.0" r="3.1"/><circle cx="1936.9" cy="1399.0" r="3.1"/><circle cx="1933.7" cy="1402.1" r="3.1"/><circle cx="1937.4" cy="1404.2" r="3.1"/><circle cx="1969.2" cy="1399.4" r="3.1"/><circle cx="1918.1" cy="1403.0" r="3.1"/><circle cx="1945.9" cy="1411.6" r="3.1"/><circle cx="1919.9" cy="1414.2" r="3.1"/><circle cx="1925.8" cy="1412.4" r="3.1"/><circle cx="1960.2" cy="1418.2" r="3.1"/><circle cx="1950.3" cy="1421.8" r="3.1"/><circle cx="1871.5" cy="1455.8" r="3.1"/></g>
<rect x="1851.0" y="1196.4" width="263.8" height="281.6" fill="none" stroke="#000" stroke-width="2.4"/>
<text x="1914.8" y="1509.0" font-size="23.5" text-anchor="middle">-2</text>
<text x="1998.6" y="1509.0" font-size="23.5" text-anchor="middle">0</text>
<text x="2079.7" y="1509.0" font-size="23.5" text-anchor="middle">2</text>
<text x="1951.62" y="1445.80" font-size="22" textLength="83.10" lengthAdjust="spacingAndGlyphs">ρ = 0.54</text>
<text x="1950.21" y="1469.00" font-size="22" textLength="135.57" lengthAdjust="spacingAndGlyphs">P = 1.19 x 10</text>
<text x="2085.35" y="1455.10" font-size="12.3" textLength="20.90" lengthAdjust="spacingAndGlyphs">-10</text>
<g>
<text x="1938.98" y="1553.50" font-size="44.5" textLength="27.82" lengthAdjust="spacingAndGlyphs">T</text>
<text x="1973.46" y="1553.50" font-size="44.5" textLength="66.67" lengthAdjust="spacingAndGlyphs">cell</text>
</g>
<text x="31.90" y="1553.83" font-size="44" textLength="435.78" lengthAdjust="spacingAndGlyphs" transform="rotate(-90 31.90 1553.83)">basal/intermediate sig.</text>
</svg></body></html>
